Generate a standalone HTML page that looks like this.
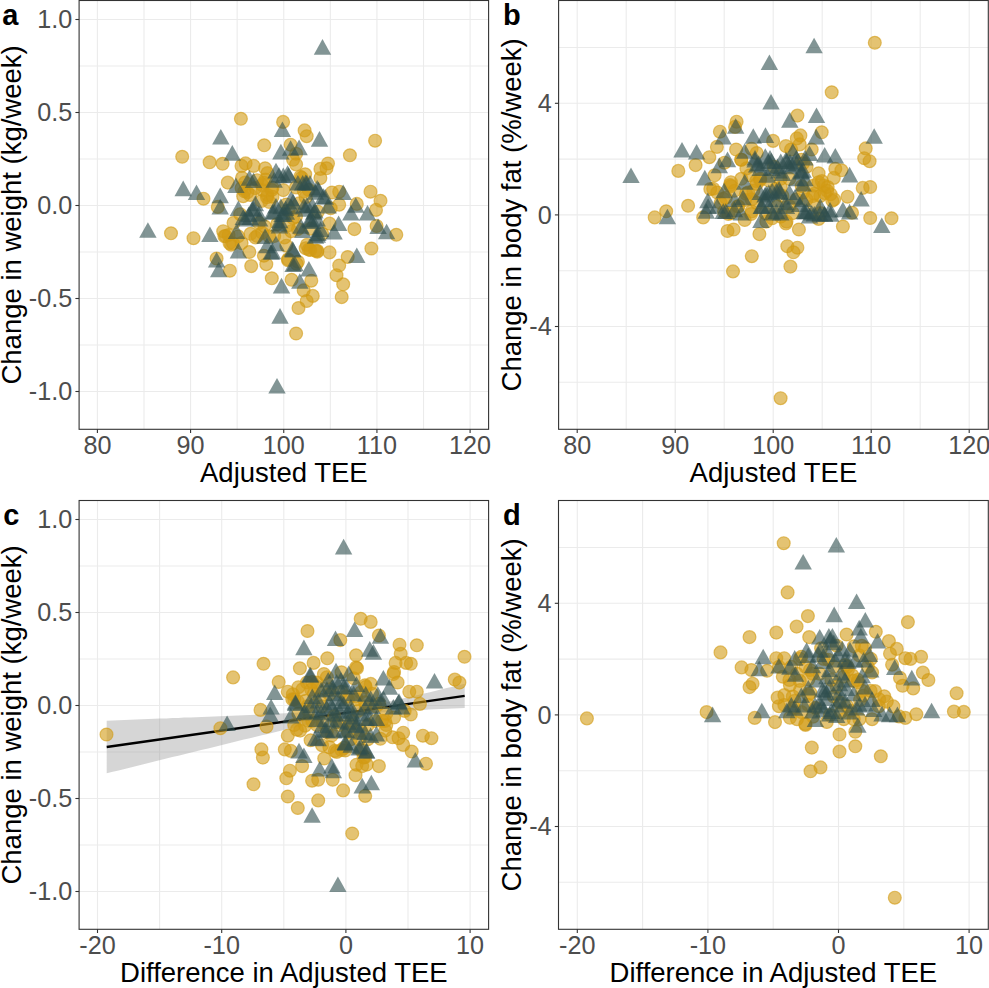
<!DOCTYPE html><html><head><meta charset="utf-8"><style>html,body{margin:0;padding:0;background:#fff;overflow:hidden}svg{display:block}</style></head><body><svg width="989" height="988" viewBox="0 0 989 988">
<rect width="989" height="988" fill="#fff"/>
<g stroke="#ebebeb" stroke-width="1.1" fill="none">
<line x1="143.99" y1="0.5" x2="143.99" y2="429.3"/>
<line x1="237.16" y1="0.5" x2="237.16" y2="429.3"/>
<line x1="330.34" y1="0.5" x2="330.34" y2="429.3"/>
<line x1="423.51" y1="0.5" x2="423.51" y2="429.3"/>
<line x1="97.40" y1="0.5" x2="97.40" y2="429.3"/>
<line x1="190.58" y1="0.5" x2="190.58" y2="429.3"/>
<line x1="283.75" y1="0.5" x2="283.75" y2="429.3"/>
<line x1="376.93" y1="0.5" x2="376.93" y2="429.3"/>
<line x1="470.10" y1="0.5" x2="470.10" y2="429.3"/>
<line x1="79.1" y1="66.00" x2="488.6" y2="66.00"/>
<line x1="79.1" y1="159.00" x2="488.6" y2="159.00"/>
<line x1="79.1" y1="252.00" x2="488.6" y2="252.00"/>
<line x1="79.1" y1="345.00" x2="488.6" y2="345.00"/>
<line x1="79.1" y1="19.50" x2="488.6" y2="19.50"/>
<line x1="79.1" y1="112.50" x2="488.6" y2="112.50"/>
<line x1="79.1" y1="205.50" x2="488.6" y2="205.50"/>
<line x1="79.1" y1="298.50" x2="488.6" y2="298.50"/>
<line x1="79.1" y1="391.50" x2="488.6" y2="391.50"/>
</g>
<g stroke="#333" stroke-width="1.1">
<line x1="97.40" y1="429.3" x2="97.40" y2="433.00"/>
<line x1="190.58" y1="429.3" x2="190.58" y2="433.00"/>
<line x1="283.75" y1="429.3" x2="283.75" y2="433.00"/>
<line x1="376.93" y1="429.3" x2="376.93" y2="433.00"/>
<line x1="470.10" y1="429.3" x2="470.10" y2="433.00"/>
<line x1="75.40" y1="19.50" x2="79.1" y2="19.50"/>
<line x1="75.40" y1="112.50" x2="79.1" y2="112.50"/>
<line x1="75.40" y1="205.50" x2="79.1" y2="205.50"/>
<line x1="75.40" y1="298.50" x2="79.1" y2="298.50"/>
<line x1="75.40" y1="391.50" x2="79.1" y2="391.50"/>
</g>
<g font-family='"Liberation Sans", sans-serif' font-size="25.2" fill="#4d4d4d">
<text x="97.40" y="453.50" text-anchor="middle">80</text>
<text x="190.58" y="453.50" text-anchor="middle">90</text>
<text x="283.75" y="453.50" text-anchor="middle">100</text>
<text x="376.93" y="453.50" text-anchor="middle">110</text>
<text x="470.10" y="453.50" text-anchor="middle">120</text>
<text x="72.20" y="28.30" text-anchor="end">1.0</text>
<text x="72.20" y="121.30" text-anchor="end">0.5</text>
<text x="72.20" y="214.30" text-anchor="end">0.0</text>
<text x="72.20" y="307.30" text-anchor="end">-0.5</text>
<text x="72.20" y="400.30" text-anchor="end">-1.0</text>
</g>
<text x="283.85" y="481.5" text-anchor="middle" font-family='"Liberation Sans", sans-serif' font-size="27.5" fill="#000">Adjusted TEE</text>
<text transform="translate(21.3,214.90) rotate(-90)" x="0" y="0" text-anchor="middle" font-family='"Liberation Sans", sans-serif' font-size="27.5" fill="#000">Change in weight (kg/week)</text>
<text x="2.3" y="24.5" font-family='"Liberation Sans", sans-serif' font-size="29" font-weight="bold" fill="#000">a</text>
<circle cx="245.6" cy="163.4" r="6.45" fill="#d29b14" fill-opacity="0.6" stroke="#d29b14" stroke-opacity="0.6" stroke-width="1.2"/>
<circle cx="267.5" cy="173.1" r="6.45" fill="#d29b14" fill-opacity="0.6" stroke="#d29b14" stroke-opacity="0.6" stroke-width="1.2"/>
<circle cx="242.0" cy="177.9" r="6.45" fill="#d29b14" fill-opacity="0.6" stroke="#d29b14" stroke-opacity="0.6" stroke-width="1.2"/>
<circle cx="300.3" cy="176.7" r="6.45" fill="#d29b14" fill-opacity="0.6" stroke="#d29b14" stroke-opacity="0.6" stroke-width="1.2"/>
<circle cx="305.2" cy="174.3" r="6.45" fill="#d29b14" fill-opacity="0.6" stroke="#d29b14" stroke-opacity="0.6" stroke-width="1.2"/>
<circle cx="263.9" cy="182.8" r="6.45" fill="#d29b14" fill-opacity="0.6" stroke="#d29b14" stroke-opacity="0.6" stroke-width="1.2"/>
<circle cx="262.7" cy="190.1" r="6.45" fill="#d29b14" fill-opacity="0.6" stroke="#d29b14" stroke-opacity="0.6" stroke-width="1.2"/>
<circle cx="244.4" cy="191.3" r="6.45" fill="#d29b14" fill-opacity="0.6" stroke="#d29b14" stroke-opacity="0.6" stroke-width="1.2"/>
<circle cx="243.2" cy="196.2" r="6.45" fill="#d29b14" fill-opacity="0.6" stroke="#d29b14" stroke-opacity="0.6" stroke-width="1.2"/>
<circle cx="261.4" cy="201.0" r="6.45" fill="#d29b14" fill-opacity="0.6" stroke="#d29b14" stroke-opacity="0.6" stroke-width="1.2"/>
<circle cx="272.4" cy="187.7" r="6.45" fill="#d29b14" fill-opacity="0.6" stroke="#d29b14" stroke-opacity="0.6" stroke-width="1.2"/>
<circle cx="283.3" cy="190.1" r="6.45" fill="#d29b14" fill-opacity="0.6" stroke="#d29b14" stroke-opacity="0.6" stroke-width="1.2"/>
<circle cx="303.9" cy="191.3" r="6.45" fill="#d29b14" fill-opacity="0.6" stroke="#d29b14" stroke-opacity="0.6" stroke-width="1.2"/>
<circle cx="331.9" cy="192.5" r="6.45" fill="#d29b14" fill-opacity="0.6" stroke="#d29b14" stroke-opacity="0.6" stroke-width="1.2"/>
<circle cx="339.2" cy="204.7" r="6.45" fill="#d29b14" fill-opacity="0.6" stroke="#d29b14" stroke-opacity="0.6" stroke-width="1.2"/>
<circle cx="330.7" cy="208.3" r="6.45" fill="#d29b14" fill-opacity="0.6" stroke="#d29b14" stroke-opacity="0.6" stroke-width="1.2"/>
<circle cx="299.1" cy="203.4" r="6.45" fill="#d29b14" fill-opacity="0.6" stroke="#d29b14" stroke-opacity="0.6" stroke-width="1.2"/>
<circle cx="233.5" cy="222.9" r="6.45" fill="#d29b14" fill-opacity="0.6" stroke="#d29b14" stroke-opacity="0.6" stroke-width="1.2"/>
<circle cx="228.6" cy="235.0" r="6.45" fill="#d29b14" fill-opacity="0.6" stroke="#d29b14" stroke-opacity="0.6" stroke-width="1.2"/>
<circle cx="231.1" cy="244.7" r="6.45" fill="#d29b14" fill-opacity="0.6" stroke="#d29b14" stroke-opacity="0.6" stroke-width="1.2"/>
<circle cx="250.5" cy="233.8" r="6.45" fill="#d29b14" fill-opacity="0.6" stroke="#d29b14" stroke-opacity="0.6" stroke-width="1.2"/>
<circle cx="255.4" cy="237.4" r="6.45" fill="#d29b14" fill-opacity="0.6" stroke="#d29b14" stroke-opacity="0.6" stroke-width="1.2"/>
<circle cx="259.0" cy="222.9" r="6.45" fill="#d29b14" fill-opacity="0.6" stroke="#d29b14" stroke-opacity="0.6" stroke-width="1.2"/>
<circle cx="277.2" cy="224.1" r="6.45" fill="#d29b14" fill-opacity="0.6" stroke="#d29b14" stroke-opacity="0.6" stroke-width="1.2"/>
<circle cx="288.2" cy="225.3" r="6.45" fill="#d29b14" fill-opacity="0.6" stroke="#d29b14" stroke-opacity="0.6" stroke-width="1.2"/>
<circle cx="297.9" cy="228.9" r="6.45" fill="#d29b14" fill-opacity="0.6" stroke="#d29b14" stroke-opacity="0.6" stroke-width="1.2"/>
<circle cx="284.5" cy="237.4" r="6.45" fill="#d29b14" fill-opacity="0.6" stroke="#d29b14" stroke-opacity="0.6" stroke-width="1.2"/>
<circle cx="322.2" cy="233.8" r="6.45" fill="#d29b14" fill-opacity="0.6" stroke="#d29b14" stroke-opacity="0.6" stroke-width="1.2"/>
<circle cx="249.3" cy="252.0" r="6.45" fill="#d29b14" fill-opacity="0.6" stroke="#d29b14" stroke-opacity="0.6" stroke-width="1.2"/>
<circle cx="263.9" cy="255.7" r="6.45" fill="#d29b14" fill-opacity="0.6" stroke="#d29b14" stroke-opacity="0.6" stroke-width="1.2"/>
<circle cx="266.3" cy="264.2" r="6.45" fill="#d29b14" fill-opacity="0.6" stroke="#d29b14" stroke-opacity="0.6" stroke-width="1.2"/>
<circle cx="308.8" cy="249.6" r="6.45" fill="#d29b14" fill-opacity="0.6" stroke="#d29b14" stroke-opacity="0.6" stroke-width="1.2"/>
<circle cx="317.3" cy="250.8" r="6.45" fill="#d29b14" fill-opacity="0.6" stroke="#d29b14" stroke-opacity="0.6" stroke-width="1.2"/>
<circle cx="288.2" cy="259.3" r="6.45" fill="#d29b14" fill-opacity="0.6" stroke="#d29b14" stroke-opacity="0.6" stroke-width="1.2"/>
<circle cx="297.9" cy="261.7" r="6.45" fill="#d29b14" fill-opacity="0.6" stroke="#d29b14" stroke-opacity="0.6" stroke-width="1.2"/>
<circle cx="288.2" cy="210.7" r="6.45" fill="#d29b14" fill-opacity="0.6" stroke="#d29b14" stroke-opacity="0.6" stroke-width="1.2"/>
<circle cx="293.0" cy="218.0" r="6.45" fill="#d29b14" fill-opacity="0.6" stroke="#d29b14" stroke-opacity="0.6" stroke-width="1.2"/>
<circle cx="265.6" cy="179.5" r="6.45" fill="#d29b14" fill-opacity="0.6" stroke="#d29b14" stroke-opacity="0.6" stroke-width="1.2"/>
<circle cx="255.3" cy="188.1" r="6.45" fill="#d29b14" fill-opacity="0.6" stroke="#d29b14" stroke-opacity="0.6" stroke-width="1.2"/>
<circle cx="250.2" cy="195.0" r="6.45" fill="#d29b14" fill-opacity="0.6" stroke="#d29b14" stroke-opacity="0.6" stroke-width="1.2"/>
<circle cx="267.4" cy="195.0" r="6.45" fill="#d29b14" fill-opacity="0.6" stroke="#d29b14" stroke-opacity="0.6" stroke-width="1.2"/>
<circle cx="241.6" cy="188.1" r="6.45" fill="#d29b14" fill-opacity="0.6" stroke="#d29b14" stroke-opacity="0.6" stroke-width="1.2"/>
<circle cx="272.5" cy="196.7" r="6.45" fill="#d29b14" fill-opacity="0.6" stroke="#d29b14" stroke-opacity="0.6" stroke-width="1.2"/>
<circle cx="301.7" cy="177.8" r="6.45" fill="#d29b14" fill-opacity="0.6" stroke="#d29b14" stroke-opacity="0.6" stroke-width="1.2"/>
<circle cx="308.6" cy="189.8" r="6.45" fill="#d29b14" fill-opacity="0.6" stroke="#d29b14" stroke-opacity="0.6" stroke-width="1.2"/>
<circle cx="224.4" cy="236.3" r="6.45" fill="#d29b14" fill-opacity="0.6" stroke="#d29b14" stroke-opacity="0.6" stroke-width="1.2"/>
<circle cx="238.1" cy="236.3" r="6.45" fill="#d29b14" fill-opacity="0.6" stroke="#d29b14" stroke-opacity="0.6" stroke-width="1.2"/>
<circle cx="229.5" cy="243.1" r="6.45" fill="#d29b14" fill-opacity="0.6" stroke="#d29b14" stroke-opacity="0.6" stroke-width="1.2"/>
<circle cx="241.6" cy="243.1" r="6.45" fill="#d29b14" fill-opacity="0.6" stroke="#d29b14" stroke-opacity="0.6" stroke-width="1.2"/>
<circle cx="269.1" cy="236.3" r="6.45" fill="#d29b14" fill-opacity="0.6" stroke="#d29b14" stroke-opacity="0.6" stroke-width="1.2"/>
<circle cx="262.2" cy="232.8" r="6.45" fill="#d29b14" fill-opacity="0.6" stroke="#d29b14" stroke-opacity="0.6" stroke-width="1.2"/>
<circle cx="288.0" cy="260.3" r="6.45" fill="#d29b14" fill-opacity="0.6" stroke="#d29b14" stroke-opacity="0.6" stroke-width="1.2"/>
<circle cx="296.6" cy="263.8" r="6.45" fill="#d29b14" fill-opacity="0.6" stroke="#d29b14" stroke-opacity="0.6" stroke-width="1.2"/>
<circle cx="306.9" cy="244.9" r="6.45" fill="#d29b14" fill-opacity="0.6" stroke="#d29b14" stroke-opacity="0.6" stroke-width="1.2"/>
<circle cx="310.3" cy="250.0" r="6.45" fill="#d29b14" fill-opacity="0.6" stroke="#d29b14" stroke-opacity="0.6" stroke-width="1.2"/>
<circle cx="317.2" cy="251.7" r="6.45" fill="#d29b14" fill-opacity="0.6" stroke="#d29b14" stroke-opacity="0.6" stroke-width="1.2"/>
<circle cx="247.4" cy="192.3" r="6.45" fill="#d29b14" fill-opacity="0.6" stroke="#d29b14" stroke-opacity="0.6" stroke-width="1.2"/>
<circle cx="262.0" cy="185.0" r="6.45" fill="#d29b14" fill-opacity="0.6" stroke="#d29b14" stroke-opacity="0.6" stroke-width="1.2"/>
<circle cx="266.9" cy="197.2" r="6.45" fill="#d29b14" fill-opacity="0.6" stroke="#d29b14" stroke-opacity="0.6" stroke-width="1.2"/>
<circle cx="257.2" cy="180.2" r="6.45" fill="#d29b14" fill-opacity="0.6" stroke="#d29b14" stroke-opacity="0.6" stroke-width="1.2"/>
<circle cx="245.0" cy="182.6" r="6.45" fill="#d29b14" fill-opacity="0.6" stroke="#d29b14" stroke-opacity="0.6" stroke-width="1.2"/>
<circle cx="271.7" cy="189.9" r="6.45" fill="#d29b14" fill-opacity="0.6" stroke="#d29b14" stroke-opacity="0.6" stroke-width="1.2"/>
<circle cx="225.6" cy="236.0" r="6.45" fill="#d29b14" fill-opacity="0.6" stroke="#d29b14" stroke-opacity="0.6" stroke-width="1.2"/>
<circle cx="232.9" cy="243.3" r="6.45" fill="#d29b14" fill-opacity="0.6" stroke="#d29b14" stroke-opacity="0.6" stroke-width="1.2"/>
<circle cx="223.2" cy="231.2" r="6.45" fill="#d29b14" fill-opacity="0.6" stroke="#d29b14" stroke-opacity="0.6" stroke-width="1.2"/>
<circle cx="257.2" cy="236.0" r="6.45" fill="#d29b14" fill-opacity="0.6" stroke="#d29b14" stroke-opacity="0.6" stroke-width="1.2"/>
<circle cx="274.2" cy="236.0" r="6.45" fill="#d29b14" fill-opacity="0.6" stroke="#d29b14" stroke-opacity="0.6" stroke-width="1.2"/>
<circle cx="286.3" cy="245.7" r="6.45" fill="#d29b14" fill-opacity="0.6" stroke="#d29b14" stroke-opacity="0.6" stroke-width="1.2"/>
<circle cx="305.7" cy="248.2" r="6.45" fill="#d29b14" fill-opacity="0.6" stroke="#d29b14" stroke-opacity="0.6" stroke-width="1.2"/>
<circle cx="315.5" cy="250.6" r="6.45" fill="#d29b14" fill-opacity="0.6" stroke="#d29b14" stroke-opacity="0.6" stroke-width="1.2"/>
<circle cx="269.3" cy="202.0" r="6.45" fill="#d29b14" fill-opacity="0.6" stroke="#d29b14" stroke-opacity="0.6" stroke-width="1.2"/>
<circle cx="286.3" cy="204.5" r="6.45" fill="#d29b14" fill-opacity="0.6" stroke="#d29b14" stroke-opacity="0.6" stroke-width="1.2"/>
<circle cx="296.0" cy="216.6" r="6.45" fill="#d29b14" fill-opacity="0.6" stroke="#d29b14" stroke-opacity="0.6" stroke-width="1.2"/>
<circle cx="264.5" cy="226.3" r="6.45" fill="#d29b14" fill-opacity="0.6" stroke="#d29b14" stroke-opacity="0.6" stroke-width="1.2"/>
<circle cx="291.2" cy="231.2" r="6.45" fill="#d29b14" fill-opacity="0.6" stroke="#d29b14" stroke-opacity="0.6" stroke-width="1.2"/>
<circle cx="305.7" cy="197.2" r="6.45" fill="#d29b14" fill-opacity="0.6" stroke="#d29b14" stroke-opacity="0.6" stroke-width="1.2"/>
<circle cx="317.9" cy="211.7" r="6.45" fill="#d29b14" fill-opacity="0.6" stroke="#d29b14" stroke-opacity="0.6" stroke-width="1.2"/>
<circle cx="240.2" cy="214.2" r="6.45" fill="#d29b14" fill-opacity="0.6" stroke="#d29b14" stroke-opacity="0.6" stroke-width="1.2"/>
<circle cx="296.0" cy="187.4" r="6.45" fill="#d29b14" fill-opacity="0.6" stroke="#d29b14" stroke-opacity="0.6" stroke-width="1.2"/>
<circle cx="310.6" cy="228.7" r="6.45" fill="#d29b14" fill-opacity="0.6" stroke="#d29b14" stroke-opacity="0.6" stroke-width="1.2"/>
<circle cx="240.9" cy="118.8" r="6.45" fill="#d29b14" fill-opacity="0.6" stroke="#d29b14" stroke-opacity="0.6" stroke-width="1.2"/>
<circle cx="283.1" cy="121.9" r="6.45" fill="#d29b14" fill-opacity="0.6" stroke="#d29b14" stroke-opacity="0.6" stroke-width="1.2"/>
<circle cx="304.6" cy="130.4" r="6.45" fill="#d29b14" fill-opacity="0.6" stroke="#d29b14" stroke-opacity="0.6" stroke-width="1.2"/>
<circle cx="306.7" cy="136.2" r="6.45" fill="#d29b14" fill-opacity="0.6" stroke="#d29b14" stroke-opacity="0.6" stroke-width="1.2"/>
<circle cx="264.2" cy="145.3" r="6.45" fill="#d29b14" fill-opacity="0.6" stroke="#d29b14" stroke-opacity="0.6" stroke-width="1.2"/>
<circle cx="375.1" cy="140.7" r="6.45" fill="#d29b14" fill-opacity="0.6" stroke="#d29b14" stroke-opacity="0.6" stroke-width="1.2"/>
<circle cx="349.9" cy="155.3" r="6.45" fill="#d29b14" fill-opacity="0.6" stroke="#d29b14" stroke-opacity="0.6" stroke-width="1.2"/>
<circle cx="182.2" cy="156.8" r="6.45" fill="#d29b14" fill-opacity="0.6" stroke="#d29b14" stroke-opacity="0.6" stroke-width="1.2"/>
<circle cx="209.6" cy="162.3" r="6.45" fill="#d29b14" fill-opacity="0.6" stroke="#d29b14" stroke-opacity="0.6" stroke-width="1.2"/>
<circle cx="222.6" cy="163.8" r="6.45" fill="#d29b14" fill-opacity="0.6" stroke="#d29b14" stroke-opacity="0.6" stroke-width="1.2"/>
<circle cx="241.5" cy="165.9" r="6.45" fill="#d29b14" fill-opacity="0.6" stroke="#d29b14" stroke-opacity="0.6" stroke-width="1.2"/>
<circle cx="253.6" cy="165.9" r="6.45" fill="#d29b14" fill-opacity="0.6" stroke="#d29b14" stroke-opacity="0.6" stroke-width="1.2"/>
<circle cx="290.6" cy="144.7" r="6.45" fill="#d29b14" fill-opacity="0.6" stroke="#d29b14" stroke-opacity="0.6" stroke-width="1.2"/>
<circle cx="296.1" cy="153.8" r="6.45" fill="#d29b14" fill-opacity="0.6" stroke="#d29b14" stroke-opacity="0.6" stroke-width="1.2"/>
<circle cx="293.1" cy="159.8" r="6.45" fill="#d29b14" fill-opacity="0.6" stroke="#d29b14" stroke-opacity="0.6" stroke-width="1.2"/>
<circle cx="296.1" cy="164.4" r="6.45" fill="#d29b14" fill-opacity="0.6" stroke="#d29b14" stroke-opacity="0.6" stroke-width="1.2"/>
<circle cx="265.1" cy="168.3" r="6.45" fill="#d29b14" fill-opacity="0.6" stroke="#d29b14" stroke-opacity="0.6" stroke-width="1.2"/>
<circle cx="328.0" cy="163.5" r="6.45" fill="#d29b14" fill-opacity="0.6" stroke="#d29b14" stroke-opacity="0.6" stroke-width="1.2"/>
<circle cx="326.5" cy="168.3" r="6.45" fill="#d29b14" fill-opacity="0.6" stroke="#d29b14" stroke-opacity="0.6" stroke-width="1.2"/>
<circle cx="320.4" cy="168.9" r="6.45" fill="#d29b14" fill-opacity="0.6" stroke="#d29b14" stroke-opacity="0.6" stroke-width="1.2"/>
<circle cx="320.4" cy="178.1" r="6.45" fill="#d29b14" fill-opacity="0.6" stroke="#d29b14" stroke-opacity="0.6" stroke-width="1.2"/>
<circle cx="203.5" cy="198.7" r="6.45" fill="#d29b14" fill-opacity="0.6" stroke="#d29b14" stroke-opacity="0.6" stroke-width="1.2"/>
<circle cx="227.8" cy="182.6" r="6.45" fill="#d29b14" fill-opacity="0.6" stroke="#d29b14" stroke-opacity="0.6" stroke-width="1.2"/>
<circle cx="370.5" cy="191.7" r="6.45" fill="#d29b14" fill-opacity="0.6" stroke="#d29b14" stroke-opacity="0.6" stroke-width="1.2"/>
<circle cx="380.5" cy="200.8" r="6.45" fill="#d29b14" fill-opacity="0.6" stroke="#d29b14" stroke-opacity="0.6" stroke-width="1.2"/>
<circle cx="376.0" cy="209.9" r="6.45" fill="#d29b14" fill-opacity="0.6" stroke="#d29b14" stroke-opacity="0.6" stroke-width="1.2"/>
<circle cx="217.8" cy="206.9" r="6.45" fill="#d29b14" fill-opacity="0.6" stroke="#d29b14" stroke-opacity="0.6" stroke-width="1.2"/>
<circle cx="171.0" cy="233.3" r="6.45" fill="#d29b14" fill-opacity="0.6" stroke="#d29b14" stroke-opacity="0.6" stroke-width="1.2"/>
<circle cx="193.5" cy="238.2" r="6.45" fill="#d29b14" fill-opacity="0.6" stroke="#d29b14" stroke-opacity="0.6" stroke-width="1.2"/>
<circle cx="396.3" cy="234.8" r="6.45" fill="#d29b14" fill-opacity="0.6" stroke="#d29b14" stroke-opacity="0.6" stroke-width="1.2"/>
<circle cx="354.4" cy="229.1" r="6.45" fill="#d29b14" fill-opacity="0.6" stroke="#d29b14" stroke-opacity="0.6" stroke-width="1.2"/>
<circle cx="371.4" cy="248.5" r="6.45" fill="#d29b14" fill-opacity="0.6" stroke="#d29b14" stroke-opacity="0.6" stroke-width="1.2"/>
<circle cx="347.7" cy="257.0" r="6.45" fill="#d29b14" fill-opacity="0.6" stroke="#d29b14" stroke-opacity="0.6" stroke-width="1.2"/>
<circle cx="339.2" cy="265.5" r="6.45" fill="#d29b14" fill-opacity="0.6" stroke="#d29b14" stroke-opacity="0.6" stroke-width="1.2"/>
<circle cx="336.5" cy="275.2" r="6.45" fill="#d29b14" fill-opacity="0.6" stroke="#d29b14" stroke-opacity="0.6" stroke-width="1.2"/>
<circle cx="343.2" cy="284.3" r="6.45" fill="#d29b14" fill-opacity="0.6" stroke="#d29b14" stroke-opacity="0.6" stroke-width="1.2"/>
<circle cx="341.7" cy="297.1" r="6.45" fill="#d29b14" fill-opacity="0.6" stroke="#d29b14" stroke-opacity="0.6" stroke-width="1.2"/>
<circle cx="329.5" cy="252.4" r="6.45" fill="#d29b14" fill-opacity="0.6" stroke="#d29b14" stroke-opacity="0.6" stroke-width="1.2"/>
<circle cx="251.2" cy="266.1" r="6.45" fill="#d29b14" fill-opacity="0.6" stroke="#d29b14" stroke-opacity="0.6" stroke-width="1.2"/>
<circle cx="229.9" cy="270.7" r="6.45" fill="#d29b14" fill-opacity="0.6" stroke="#d29b14" stroke-opacity="0.6" stroke-width="1.2"/>
<circle cx="216.6" cy="258.5" r="6.45" fill="#d29b14" fill-opacity="0.6" stroke="#d29b14" stroke-opacity="0.6" stroke-width="1.2"/>
<circle cx="271.8" cy="278.3" r="6.45" fill="#d29b14" fill-opacity="0.6" stroke="#d29b14" stroke-opacity="0.6" stroke-width="1.2"/>
<circle cx="291.6" cy="279.8" r="6.45" fill="#d29b14" fill-opacity="0.6" stroke="#d29b14" stroke-opacity="0.6" stroke-width="1.2"/>
<circle cx="311.3" cy="280.7" r="6.45" fill="#d29b14" fill-opacity="0.6" stroke="#d29b14" stroke-opacity="0.6" stroke-width="1.2"/>
<circle cx="303.7" cy="290.4" r="6.45" fill="#d29b14" fill-opacity="0.6" stroke="#d29b14" stroke-opacity="0.6" stroke-width="1.2"/>
<circle cx="312.8" cy="295.9" r="6.45" fill="#d29b14" fill-opacity="0.6" stroke="#d29b14" stroke-opacity="0.6" stroke-width="1.2"/>
<circle cx="306.7" cy="301.0" r="6.45" fill="#d29b14" fill-opacity="0.6" stroke="#d29b14" stroke-opacity="0.6" stroke-width="1.2"/>
<circle cx="298.5" cy="308.0" r="6.45" fill="#d29b14" fill-opacity="0.6" stroke="#d29b14" stroke-opacity="0.6" stroke-width="1.2"/>
<circle cx="296.1" cy="333.5" r="6.45" fill="#d29b14" fill-opacity="0.6" stroke="#d29b14" stroke-opacity="0.6" stroke-width="1.2"/>
<circle cx="329.5" cy="223.6" r="6.45" fill="#d29b14" fill-opacity="0.6" stroke="#d29b14" stroke-opacity="0.6" stroke-width="1.2"/>
<circle cx="356.8" cy="203.9" r="6.45" fill="#d29b14" fill-opacity="0.6" stroke="#d29b14" stroke-opacity="0.6" stroke-width="1.2"/>
<circle cx="339.2" cy="191.7" r="6.45" fill="#d29b14" fill-opacity="0.6" stroke="#d29b14" stroke-opacity="0.6" stroke-width="1.2"/>
<circle cx="376.6" cy="226.0" r="6.45" fill="#d29b14" fill-opacity="0.6" stroke="#d29b14" stroke-opacity="0.6" stroke-width="1.2"/>
<path d="M276.00 162.80L284.70 178.40L267.30 178.40Z" fill="#2f4f4f" fill-opacity="0.6"/>
<path d="M287.60 165.20L296.30 180.80L278.90 180.80Z" fill="#2f4f4f" fill-opacity="0.6"/>
<path d="M283.30 167.60L292.00 183.20L274.60 183.20Z" fill="#2f4f4f" fill-opacity="0.6"/>
<path d="M249.30 170.10L258.00 185.70L240.60 185.70Z" fill="#2f4f4f" fill-opacity="0.6"/>
<path d="M253.50 172.50L262.20 188.10L244.80 188.10Z" fill="#2f4f4f" fill-opacity="0.6"/>
<path d="M297.90 174.90L306.60 190.50L289.20 190.50Z" fill="#2f4f4f" fill-opacity="0.6"/>
<path d="M302.70 174.90L311.40 190.50L294.00 190.50Z" fill="#2f4f4f" fill-opacity="0.6"/>
<path d="M310.00 174.90L318.70 190.50L301.30 190.50Z" fill="#2f4f4f" fill-opacity="0.6"/>
<path d="M318.50 181.60L327.20 197.20L309.80 197.20Z" fill="#2f4f4f" fill-opacity="0.6"/>
<path d="M323.40 188.30L332.10 203.90L314.70 203.90Z" fill="#2f4f4f" fill-opacity="0.6"/>
<path d="M235.90 177.40L244.60 193.00L227.20 193.00Z" fill="#2f4f4f" fill-opacity="0.6"/>
<path d="M291.20 190.70L299.90 206.30L282.50 206.30Z" fill="#2f4f4f" fill-opacity="0.6"/>
<path d="M255.40 195.60L264.10 211.20L246.70 211.20Z" fill="#2f4f4f" fill-opacity="0.6"/>
<path d="M276.00 198.00L284.70 213.60L267.30 213.60Z" fill="#2f4f4f" fill-opacity="0.6"/>
<path d="M280.90 198.60L289.60 214.20L272.20 214.20Z" fill="#2f4f4f" fill-opacity="0.6"/>
<path d="M285.70 200.40L294.40 216.00L277.00 216.00Z" fill="#2f4f4f" fill-opacity="0.6"/>
<path d="M303.90 198.00L312.60 213.60L295.20 213.60Z" fill="#2f4f4f" fill-opacity="0.6"/>
<path d="M312.40 197.40L321.10 213.00L303.70 213.00Z" fill="#2f4f4f" fill-opacity="0.6"/>
<path d="M238.40 200.40L247.10 216.00L229.70 216.00Z" fill="#2f4f4f" fill-opacity="0.6"/>
<path d="M248.70 206.50L257.40 222.10L240.00 222.10Z" fill="#2f4f4f" fill-opacity="0.6"/>
<path d="M282.10 206.50L290.80 222.10L273.40 222.10Z" fill="#2f4f4f" fill-opacity="0.6"/>
<path d="M314.90 202.90L323.60 218.50L306.20 218.50Z" fill="#2f4f4f" fill-opacity="0.6"/>
<path d="M328.20 198.00L336.90 213.60L319.50 213.60Z" fill="#2f4f4f" fill-opacity="0.6"/>
<path d="M310.00 211.40L318.70 227.00L301.30 227.00Z" fill="#2f4f4f" fill-opacity="0.6"/>
<path d="M279.70 212.60L288.40 228.20L271.00 228.20Z" fill="#2f4f4f" fill-opacity="0.6"/>
<path d="M236.50 223.50L245.20 239.10L227.80 239.10Z" fill="#2f4f4f" fill-opacity="0.6"/>
<path d="M265.10 228.40L273.80 244.00L256.40 244.00Z" fill="#2f4f4f" fill-opacity="0.6"/>
<path d="M302.70 222.30L311.40 237.90L294.00 237.90Z" fill="#2f4f4f" fill-opacity="0.6"/>
<path d="M317.30 227.20L326.00 242.80L308.60 242.80Z" fill="#2f4f4f" fill-opacity="0.6"/>
<path d="M276.00 235.70L284.70 251.30L267.30 251.30Z" fill="#2f4f4f" fill-opacity="0.6"/>
<path d="M271.20 244.20L279.90 259.80L262.50 259.80Z" fill="#2f4f4f" fill-opacity="0.6"/>
<path d="M292.40 241.10L301.10 256.70L283.70 256.70Z" fill="#2f4f4f" fill-opacity="0.6"/>
<path d="M253.60 200.70L262.30 216.30L244.90 216.30Z" fill="#2f4f4f" fill-opacity="0.6"/>
<path d="M250.20 209.30L258.90 224.90L241.50 224.90Z" fill="#2f4f4f" fill-opacity="0.6"/>
<path d="M258.80 205.80L267.50 221.40L250.10 221.40Z" fill="#2f4f4f" fill-opacity="0.6"/>
<path d="M243.30 209.30L252.00 224.90L234.60 224.90Z" fill="#2f4f4f" fill-opacity="0.6"/>
<path d="M272.50 204.10L281.20 219.70L263.80 219.70Z" fill="#2f4f4f" fill-opacity="0.6"/>
<path d="M279.40 217.80L288.10 233.40L270.70 233.40Z" fill="#2f4f4f" fill-opacity="0.6"/>
<path d="M286.30 204.10L295.00 219.70L277.60 219.70Z" fill="#2f4f4f" fill-opacity="0.6"/>
<path d="M293.10 193.80L301.80 209.40L284.40 209.40Z" fill="#2f4f4f" fill-opacity="0.6"/>
<path d="M306.90 174.90L315.60 190.50L298.20 190.50Z" fill="#2f4f4f" fill-opacity="0.6"/>
<path d="M317.20 180.00L325.90 195.60L308.50 195.60Z" fill="#2f4f4f" fill-opacity="0.6"/>
<path d="M306.90 197.20L315.60 212.80L298.20 212.80Z" fill="#2f4f4f" fill-opacity="0.6"/>
<path d="M313.80 204.10L322.50 219.70L305.10 219.70Z" fill="#2f4f4f" fill-opacity="0.6"/>
<path d="M310.30 212.70L319.00 228.30L301.60 228.30Z" fill="#2f4f4f" fill-opacity="0.6"/>
<path d="M317.20 211.00L325.90 226.60L308.50 226.60Z" fill="#2f4f4f" fill-opacity="0.6"/>
<path d="M293.10 241.90L301.80 257.50L284.40 257.50Z" fill="#2f4f4f" fill-opacity="0.6"/>
<path d="M272.50 243.60L281.20 259.20L263.80 259.20Z" fill="#2f4f4f" fill-opacity="0.6"/>
<path d="M294.90 255.70L303.60 271.30L286.20 271.30Z" fill="#2f4f4f" fill-opacity="0.6"/>
<path d="M315.50 228.20L324.20 243.80L306.80 243.80Z" fill="#2f4f4f" fill-opacity="0.6"/>
<path d="M320.60 221.30L329.30 236.90L311.90 236.90Z" fill="#2f4f4f" fill-opacity="0.6"/>
<path d="M279.00 167.20L287.70 182.80L270.30 182.80Z" fill="#2f4f4f" fill-opacity="0.6"/>
<path d="M288.70 167.20L297.40 182.80L280.00 182.80Z" fill="#2f4f4f" fill-opacity="0.6"/>
<path d="M274.20 172.10L282.90 187.70L265.50 187.70Z" fill="#2f4f4f" fill-opacity="0.6"/>
<path d="M305.70 174.50L314.40 190.10L297.00 190.10Z" fill="#2f4f4f" fill-opacity="0.6"/>
<path d="M315.50 184.20L324.20 199.80L306.80 199.80Z" fill="#2f4f4f" fill-opacity="0.6"/>
<path d="M325.20 189.10L333.90 204.70L316.50 204.70Z" fill="#2f4f4f" fill-opacity="0.6"/>
<path d="M252.30 201.20L261.00 216.80L243.60 216.80Z" fill="#2f4f4f" fill-opacity="0.6"/>
<path d="M245.00 210.90L253.70 226.50L236.30 226.50Z" fill="#2f4f4f" fill-opacity="0.6"/>
<path d="M259.60 210.90L268.30 226.50L250.90 226.50Z" fill="#2f4f4f" fill-opacity="0.6"/>
<path d="M274.20 203.60L282.90 219.20L265.50 219.20Z" fill="#2f4f4f" fill-opacity="0.6"/>
<path d="M283.90 206.10L292.60 221.70L275.20 221.70Z" fill="#2f4f4f" fill-opacity="0.6"/>
<path d="M279.00 215.80L287.70 231.40L270.30 231.40Z" fill="#2f4f4f" fill-opacity="0.6"/>
<path d="M291.20 198.80L299.90 214.40L282.50 214.40Z" fill="#2f4f4f" fill-opacity="0.6"/>
<path d="M305.70 201.20L314.40 216.80L297.00 216.80Z" fill="#2f4f4f" fill-opacity="0.6"/>
<path d="M313.00 213.40L321.70 229.00L304.30 229.00Z" fill="#2f4f4f" fill-opacity="0.6"/>
<path d="M300.90 218.20L309.60 233.80L292.20 233.80Z" fill="#2f4f4f" fill-opacity="0.6"/>
<path d="M317.90 225.50L326.60 241.10L309.20 241.10Z" fill="#2f4f4f" fill-opacity="0.6"/>
<path d="M266.90 237.60L275.60 253.20L258.20 253.20Z" fill="#2f4f4f" fill-opacity="0.6"/>
<path d="M355.80 197.20L364.50 212.80L347.10 212.80Z" fill="#2f4f4f" fill-opacity="0.6"/>
<path d="M322.50 39.10L331.20 54.70L313.80 54.70Z" fill="#2f4f4f" fill-opacity="0.6"/>
<path d="M282.40 121.40L291.10 137.00L273.70 137.00Z" fill="#2f4f4f" fill-opacity="0.6"/>
<path d="M220.80 129.00L229.50 144.60L212.10 144.60Z" fill="#2f4f4f" fill-opacity="0.6"/>
<path d="M319.50 131.10L328.20 146.70L310.80 146.70Z" fill="#2f4f4f" fill-opacity="0.6"/>
<path d="M232.30 145.10L241.00 160.70L223.60 160.70Z" fill="#2f4f4f" fill-opacity="0.6"/>
<path d="M280.90 143.80L289.60 159.40L272.20 159.40Z" fill="#2f4f4f" fill-opacity="0.6"/>
<path d="M290.60 140.20L299.30 155.80L281.90 155.80Z" fill="#2f4f4f" fill-opacity="0.6"/>
<path d="M299.10 139.60L307.80 155.20L290.40 155.20Z" fill="#2f4f4f" fill-opacity="0.6"/>
<path d="M183.20 180.60L191.90 196.20L174.50 196.20Z" fill="#2f4f4f" fill-opacity="0.6"/>
<path d="M196.50 184.50L205.20 200.10L187.80 200.10Z" fill="#2f4f4f" fill-opacity="0.6"/>
<path d="M220.20 187.60L228.90 203.20L211.50 203.20Z" fill="#2f4f4f" fill-opacity="0.6"/>
<path d="M220.20 198.80L228.90 214.40L211.50 214.40Z" fill="#2f4f4f" fill-opacity="0.6"/>
<path d="M147.90 222.20L156.60 237.80L139.20 237.80Z" fill="#2f4f4f" fill-opacity="0.6"/>
<path d="M209.90 226.40L218.60 242.00L201.20 242.00Z" fill="#2f4f4f" fill-opacity="0.6"/>
<path d="M343.20 184.50L351.90 200.10L334.50 200.10Z" fill="#2f4f4f" fill-opacity="0.6"/>
<path d="M350.80 204.90L359.50 220.50L342.10 220.50Z" fill="#2f4f4f" fill-opacity="0.6"/>
<path d="M367.50 204.90L376.20 220.50L358.80 220.50Z" fill="#2f4f4f" fill-opacity="0.6"/>
<path d="M338.60 215.50L347.30 231.10L329.90 231.10Z" fill="#2f4f4f" fill-opacity="0.6"/>
<path d="M334.10 224.00L342.80 239.60L325.40 239.60Z" fill="#2f4f4f" fill-opacity="0.6"/>
<path d="M378.10 218.50L386.80 234.10L369.40 234.10Z" fill="#2f4f4f" fill-opacity="0.6"/>
<path d="M386.60 223.70L395.30 239.30L377.90 239.30Z" fill="#2f4f4f" fill-opacity="0.6"/>
<path d="M356.80 247.40L365.50 263.00L348.10 263.00Z" fill="#2f4f4f" fill-opacity="0.6"/>
<path d="M216.60 251.90L225.30 267.50L207.90 267.50Z" fill="#2f4f4f" fill-opacity="0.6"/>
<path d="M218.70 261.70L227.40 277.30L210.00 277.30Z" fill="#2f4f4f" fill-opacity="0.6"/>
<path d="M238.40 242.80L247.10 258.40L229.70 258.40Z" fill="#2f4f4f" fill-opacity="0.6"/>
<path d="M281.50 277.80L290.20 293.40L272.80 293.40Z" fill="#2f4f4f" fill-opacity="0.6"/>
<path d="M299.80 273.20L308.50 288.80L291.10 288.80Z" fill="#2f4f4f" fill-opacity="0.6"/>
<path d="M308.90 261.00L317.60 276.60L300.20 276.60Z" fill="#2f4f4f" fill-opacity="0.6"/>
<path d="M293.10 256.50L301.80 272.10L284.40 272.10Z" fill="#2f4f4f" fill-opacity="0.6"/>
<path d="M280.00 308.10L288.70 323.70L271.30 323.70Z" fill="#2f4f4f" fill-opacity="0.6"/>
<path d="M277.00 378.00L285.70 393.60L268.30 393.60Z" fill="#2f4f4f" fill-opacity="0.6"/>
<rect x="79.1" y="0.5" width="409.50" height="428.80" fill="none" stroke="#333" stroke-width="1.1"/>
<g stroke="#ebebeb" stroke-width="1.1" fill="none">
<line x1="626.20" y1="0.5" x2="626.20" y2="429.3"/>
<line x1="724.20" y1="0.5" x2="724.20" y2="429.3"/>
<line x1="822.20" y1="0.5" x2="822.20" y2="429.3"/>
<line x1="920.20" y1="0.5" x2="920.20" y2="429.3"/>
<line x1="577.20" y1="0.5" x2="577.20" y2="429.3"/>
<line x1="675.20" y1="0.5" x2="675.20" y2="429.3"/>
<line x1="773.20" y1="0.5" x2="773.20" y2="429.3"/>
<line x1="871.20" y1="0.5" x2="871.20" y2="429.3"/>
<line x1="969.20" y1="0.5" x2="969.20" y2="429.3"/>
<line x1="558.6" y1="47.50" x2="988.3" y2="47.50"/>
<line x1="558.6" y1="159.10" x2="988.3" y2="159.10"/>
<line x1="558.6" y1="270.70" x2="988.3" y2="270.70"/>
<line x1="558.6" y1="382.30" x2="988.3" y2="382.30"/>
<line x1="558.6" y1="103.30" x2="988.3" y2="103.30"/>
<line x1="558.6" y1="214.90" x2="988.3" y2="214.90"/>
<line x1="558.6" y1="326.50" x2="988.3" y2="326.50"/>
</g>
<g stroke="#333" stroke-width="1.1">
<line x1="577.20" y1="429.3" x2="577.20" y2="433.00"/>
<line x1="675.20" y1="429.3" x2="675.20" y2="433.00"/>
<line x1="773.20" y1="429.3" x2="773.20" y2="433.00"/>
<line x1="871.20" y1="429.3" x2="871.20" y2="433.00"/>
<line x1="969.20" y1="429.3" x2="969.20" y2="433.00"/>
<line x1="554.90" y1="103.30" x2="558.6" y2="103.30"/>
<line x1="554.90" y1="214.90" x2="558.6" y2="214.90"/>
<line x1="554.90" y1="326.50" x2="558.6" y2="326.50"/>
</g>
<g font-family='"Liberation Sans", sans-serif' font-size="25.2" fill="#4d4d4d">
<text x="577.20" y="453.50" text-anchor="middle">80</text>
<text x="675.20" y="453.50" text-anchor="middle">90</text>
<text x="773.20" y="453.50" text-anchor="middle">100</text>
<text x="871.20" y="453.50" text-anchor="middle">110</text>
<text x="969.20" y="453.50" text-anchor="middle">120</text>
<text x="551.70" y="112.10" text-anchor="end">4</text>
<text x="551.70" y="223.70" text-anchor="end">0</text>
<text x="551.70" y="335.30" text-anchor="end">-4</text>
</g>
<text x="773.45" y="481.5" text-anchor="middle" font-family='"Liberation Sans", sans-serif' font-size="27.5" fill="#000">Adjusted TEE</text>
<text transform="translate(521.0,214.90) rotate(-90)" x="0" y="0" text-anchor="middle" font-family='"Liberation Sans", sans-serif' font-size="27.5" fill="#000">Change in body fat (%/week)</text>
<text x="503.0" y="24.5" font-family='"Liberation Sans", sans-serif' font-size="29" font-weight="bold" fill="#000">b</text>
<circle cx="736.1" cy="149.5" r="6.45" fill="#d29b14" fill-opacity="0.6" stroke="#d29b14" stroke-opacity="0.6" stroke-width="1.2"/>
<circle cx="741.3" cy="159.8" r="6.45" fill="#d29b14" fill-opacity="0.6" stroke="#d29b14" stroke-opacity="0.6" stroke-width="1.2"/>
<circle cx="751.6" cy="148.7" r="6.45" fill="#d29b14" fill-opacity="0.6" stroke="#d29b14" stroke-opacity="0.6" stroke-width="1.2"/>
<circle cx="756.7" cy="153.0" r="6.45" fill="#d29b14" fill-opacity="0.6" stroke="#d29b14" stroke-opacity="0.6" stroke-width="1.2"/>
<circle cx="746.4" cy="168.4" r="6.45" fill="#d29b14" fill-opacity="0.6" stroke="#d29b14" stroke-opacity="0.6" stroke-width="1.2"/>
<circle cx="741.3" cy="178.8" r="6.45" fill="#d29b14" fill-opacity="0.6" stroke="#d29b14" stroke-opacity="0.6" stroke-width="1.2"/>
<circle cx="730.9" cy="182.2" r="6.45" fill="#d29b14" fill-opacity="0.6" stroke="#d29b14" stroke-opacity="0.6" stroke-width="1.2"/>
<circle cx="714.6" cy="175.3" r="6.45" fill="#d29b14" fill-opacity="0.6" stroke="#d29b14" stroke-opacity="0.6" stroke-width="1.2"/>
<circle cx="710.3" cy="189.1" r="6.45" fill="#d29b14" fill-opacity="0.6" stroke="#d29b14" stroke-opacity="0.6" stroke-width="1.2"/>
<circle cx="717.2" cy="192.5" r="6.45" fill="#d29b14" fill-opacity="0.6" stroke="#d29b14" stroke-opacity="0.6" stroke-width="1.2"/>
<circle cx="725.8" cy="197.7" r="6.45" fill="#d29b14" fill-opacity="0.6" stroke="#d29b14" stroke-opacity="0.6" stroke-width="1.2"/>
<circle cx="724.1" cy="211.4" r="6.45" fill="#d29b14" fill-opacity="0.6" stroke="#d29b14" stroke-opacity="0.6" stroke-width="1.2"/>
<circle cx="737.8" cy="206.3" r="6.45" fill="#d29b14" fill-opacity="0.6" stroke="#d29b14" stroke-opacity="0.6" stroke-width="1.2"/>
<circle cx="744.7" cy="220.0" r="6.45" fill="#d29b14" fill-opacity="0.6" stroke="#d29b14" stroke-opacity="0.6" stroke-width="1.2"/>
<circle cx="751.6" cy="211.4" r="6.45" fill="#d29b14" fill-opacity="0.6" stroke="#d29b14" stroke-opacity="0.6" stroke-width="1.2"/>
<circle cx="756.7" cy="202.8" r="6.45" fill="#d29b14" fill-opacity="0.6" stroke="#d29b14" stroke-opacity="0.6" stroke-width="1.2"/>
<circle cx="753.3" cy="190.8" r="6.45" fill="#d29b14" fill-opacity="0.6" stroke="#d29b14" stroke-opacity="0.6" stroke-width="1.2"/>
<circle cx="756.7" cy="183.9" r="6.45" fill="#d29b14" fill-opacity="0.6" stroke="#d29b14" stroke-opacity="0.6" stroke-width="1.2"/>
<circle cx="785.9" cy="146.1" r="6.45" fill="#d29b14" fill-opacity="0.6" stroke="#d29b14" stroke-opacity="0.6" stroke-width="1.2"/>
<circle cx="791.1" cy="149.5" r="6.45" fill="#d29b14" fill-opacity="0.6" stroke="#d29b14" stroke-opacity="0.6" stroke-width="1.2"/>
<circle cx="799.7" cy="144.4" r="6.45" fill="#d29b14" fill-opacity="0.6" stroke="#d29b14" stroke-opacity="0.6" stroke-width="1.2"/>
<circle cx="801.4" cy="159.8" r="6.45" fill="#d29b14" fill-opacity="0.6" stroke="#d29b14" stroke-opacity="0.6" stroke-width="1.2"/>
<circle cx="806.6" cy="166.7" r="6.45" fill="#d29b14" fill-opacity="0.6" stroke="#d29b14" stroke-opacity="0.6" stroke-width="1.2"/>
<circle cx="811.7" cy="149.5" r="6.45" fill="#d29b14" fill-opacity="0.6" stroke="#d29b14" stroke-opacity="0.6" stroke-width="1.2"/>
<circle cx="818.6" cy="182.2" r="6.45" fill="#d29b14" fill-opacity="0.6" stroke="#d29b14" stroke-opacity="0.6" stroke-width="1.2"/>
<circle cx="823.8" cy="185.6" r="6.45" fill="#d29b14" fill-opacity="0.6" stroke="#d29b14" stroke-opacity="0.6" stroke-width="1.2"/>
<circle cx="827.2" cy="190.8" r="6.45" fill="#d29b14" fill-opacity="0.6" stroke="#d29b14" stroke-opacity="0.6" stroke-width="1.2"/>
<circle cx="830.6" cy="194.2" r="6.45" fill="#d29b14" fill-opacity="0.6" stroke="#d29b14" stroke-opacity="0.6" stroke-width="1.2"/>
<circle cx="820.3" cy="213.1" r="6.45" fill="#d29b14" fill-opacity="0.6" stroke="#d29b14" stroke-opacity="0.6" stroke-width="1.2"/>
<circle cx="796.3" cy="199.4" r="6.45" fill="#d29b14" fill-opacity="0.6" stroke="#d29b14" stroke-opacity="0.6" stroke-width="1.2"/>
<circle cx="803.1" cy="192.5" r="6.45" fill="#d29b14" fill-opacity="0.6" stroke="#d29b14" stroke-opacity="0.6" stroke-width="1.2"/>
<circle cx="789.4" cy="206.3" r="6.45" fill="#d29b14" fill-opacity="0.6" stroke="#d29b14" stroke-opacity="0.6" stroke-width="1.2"/>
<circle cx="780.8" cy="216.6" r="6.45" fill="#d29b14" fill-opacity="0.6" stroke="#d29b14" stroke-opacity="0.6" stroke-width="1.2"/>
<circle cx="772.2" cy="218.3" r="6.45" fill="#d29b14" fill-opacity="0.6" stroke="#d29b14" stroke-opacity="0.6" stroke-width="1.2"/>
<circle cx="765.3" cy="213.1" r="6.45" fill="#d29b14" fill-opacity="0.6" stroke="#d29b14" stroke-opacity="0.6" stroke-width="1.2"/>
<circle cx="785.9" cy="223.4" r="6.45" fill="#d29b14" fill-opacity="0.6" stroke="#d29b14" stroke-opacity="0.6" stroke-width="1.2"/>
<circle cx="773.9" cy="166.7" r="6.45" fill="#d29b14" fill-opacity="0.6" stroke="#d29b14" stroke-opacity="0.6" stroke-width="1.2"/>
<circle cx="775.6" cy="189.1" r="6.45" fill="#d29b14" fill-opacity="0.6" stroke="#d29b14" stroke-opacity="0.6" stroke-width="1.2"/>
<circle cx="780.8" cy="187.4" r="6.45" fill="#d29b14" fill-opacity="0.6" stroke="#d29b14" stroke-opacity="0.6" stroke-width="1.2"/>
<circle cx="749.8" cy="175.3" r="6.45" fill="#d29b14" fill-opacity="0.6" stroke="#d29b14" stroke-opacity="0.6" stroke-width="1.2"/>
<circle cx="760.2" cy="178.8" r="6.45" fill="#d29b14" fill-opacity="0.6" stroke="#d29b14" stroke-opacity="0.6" stroke-width="1.2"/>
<circle cx="768.8" cy="180.5" r="6.45" fill="#d29b14" fill-opacity="0.6" stroke="#d29b14" stroke-opacity="0.6" stroke-width="1.2"/>
<circle cx="780.8" cy="178.8" r="6.45" fill="#d29b14" fill-opacity="0.6" stroke="#d29b14" stroke-opacity="0.6" stroke-width="1.2"/>
<circle cx="789.4" cy="178.8" r="6.45" fill="#d29b14" fill-opacity="0.6" stroke="#d29b14" stroke-opacity="0.6" stroke-width="1.2"/>
<circle cx="803.1" cy="163.3" r="6.45" fill="#d29b14" fill-opacity="0.6" stroke="#d29b14" stroke-opacity="0.6" stroke-width="1.2"/>
<circle cx="782.5" cy="195.9" r="6.45" fill="#d29b14" fill-opacity="0.6" stroke="#d29b14" stroke-opacity="0.6" stroke-width="1.2"/>
<circle cx="792.8" cy="213.1" r="6.45" fill="#d29b14" fill-opacity="0.6" stroke="#d29b14" stroke-opacity="0.6" stroke-width="1.2"/>
<circle cx="751.6" cy="199.4" r="6.45" fill="#d29b14" fill-opacity="0.6" stroke="#d29b14" stroke-opacity="0.6" stroke-width="1.2"/>
<circle cx="777.4" cy="206.3" r="6.45" fill="#d29b14" fill-opacity="0.6" stroke="#d29b14" stroke-opacity="0.6" stroke-width="1.2"/>
<circle cx="813.4" cy="185.6" r="6.45" fill="#d29b14" fill-opacity="0.6" stroke="#d29b14" stroke-opacity="0.6" stroke-width="1.2"/>
<circle cx="820.3" cy="195.9" r="6.45" fill="#d29b14" fill-opacity="0.6" stroke="#d29b14" stroke-opacity="0.6" stroke-width="1.2"/>
<circle cx="834.1" cy="199.4" r="6.45" fill="#d29b14" fill-opacity="0.6" stroke="#d29b14" stroke-opacity="0.6" stroke-width="1.2"/>
<circle cx="806.6" cy="199.4" r="6.45" fill="#d29b14" fill-opacity="0.6" stroke="#d29b14" stroke-opacity="0.6" stroke-width="1.2"/>
<circle cx="720.6" cy="202.8" r="6.45" fill="#d29b14" fill-opacity="0.6" stroke="#d29b14" stroke-opacity="0.6" stroke-width="1.2"/>
<circle cx="734.4" cy="190.8" r="6.45" fill="#d29b14" fill-opacity="0.6" stroke="#d29b14" stroke-opacity="0.6" stroke-width="1.2"/>
<circle cx="730.9" cy="213.1" r="6.45" fill="#d29b14" fill-opacity="0.6" stroke="#d29b14" stroke-opacity="0.6" stroke-width="1.2"/>
<circle cx="748.1" cy="192.5" r="6.45" fill="#d29b14" fill-opacity="0.6" stroke="#d29b14" stroke-opacity="0.6" stroke-width="1.2"/>
<circle cx="730.9" cy="186.2" r="6.45" fill="#d29b14" fill-opacity="0.6" stroke="#d29b14" stroke-opacity="0.6" stroke-width="1.2"/>
<circle cx="746.1" cy="193.8" r="6.45" fill="#d29b14" fill-opacity="0.6" stroke="#d29b14" stroke-opacity="0.6" stroke-width="1.2"/>
<circle cx="738.5" cy="206.4" r="6.45" fill="#d29b14" fill-opacity="0.6" stroke="#d29b14" stroke-opacity="0.6" stroke-width="1.2"/>
<circle cx="751.1" cy="214.0" r="6.45" fill="#d29b14" fill-opacity="0.6" stroke="#d29b14" stroke-opacity="0.6" stroke-width="1.2"/>
<circle cx="728.4" cy="214.0" r="6.45" fill="#d29b14" fill-opacity="0.6" stroke="#d29b14" stroke-opacity="0.6" stroke-width="1.2"/>
<circle cx="756.2" cy="181.1" r="6.45" fill="#d29b14" fill-opacity="0.6" stroke="#d29b14" stroke-opacity="0.6" stroke-width="1.2"/>
<circle cx="801.7" cy="186.2" r="6.45" fill="#d29b14" fill-opacity="0.6" stroke="#d29b14" stroke-opacity="0.6" stroke-width="1.2"/>
<circle cx="814.3" cy="193.8" r="6.45" fill="#d29b14" fill-opacity="0.6" stroke="#d29b14" stroke-opacity="0.6" stroke-width="1.2"/>
<circle cx="821.9" cy="181.1" r="6.45" fill="#d29b14" fill-opacity="0.6" stroke="#d29b14" stroke-opacity="0.6" stroke-width="1.2"/>
<circle cx="713.2" cy="188.7" r="6.45" fill="#d29b14" fill-opacity="0.6" stroke="#d29b14" stroke-opacity="0.6" stroke-width="1.2"/>
<circle cx="723.3" cy="198.8" r="6.45" fill="#d29b14" fill-opacity="0.6" stroke="#d29b14" stroke-opacity="0.6" stroke-width="1.2"/>
<circle cx="766.3" cy="221.6" r="6.45" fill="#d29b14" fill-opacity="0.6" stroke="#d29b14" stroke-opacity="0.6" stroke-width="1.2"/>
<circle cx="786.5" cy="221.6" r="6.45" fill="#d29b14" fill-opacity="0.6" stroke="#d29b14" stroke-opacity="0.6" stroke-width="1.2"/>
<circle cx="730.0" cy="185.0" r="6.45" fill="#d29b14" fill-opacity="0.6" stroke="#d29b14" stroke-opacity="0.6" stroke-width="1.2"/>
<circle cx="745.0" cy="200.0" r="6.45" fill="#d29b14" fill-opacity="0.6" stroke="#d29b14" stroke-opacity="0.6" stroke-width="1.2"/>
<circle cx="760.0" cy="180.0" r="6.45" fill="#d29b14" fill-opacity="0.6" stroke="#d29b14" stroke-opacity="0.6" stroke-width="1.2"/>
<circle cx="780.6" cy="398.2" r="6.45" fill="#d29b14" fill-opacity="0.6" stroke="#d29b14" stroke-opacity="0.6" stroke-width="1.2"/>
<circle cx="874.8" cy="42.8" r="6.45" fill="#d29b14" fill-opacity="0.6" stroke="#d29b14" stroke-opacity="0.6" stroke-width="1.2"/>
<circle cx="831.7" cy="92.3" r="6.45" fill="#d29b14" fill-opacity="0.6" stroke="#d29b14" stroke-opacity="0.6" stroke-width="1.2"/>
<circle cx="797.4" cy="115.6" r="6.45" fill="#d29b14" fill-opacity="0.6" stroke="#d29b14" stroke-opacity="0.6" stroke-width="1.2"/>
<circle cx="736.6" cy="121.7" r="6.45" fill="#d29b14" fill-opacity="0.6" stroke="#d29b14" stroke-opacity="0.6" stroke-width="1.2"/>
<circle cx="735.1" cy="126.9" r="6.45" fill="#d29b14" fill-opacity="0.6" stroke="#d29b14" stroke-opacity="0.6" stroke-width="1.2"/>
<circle cx="719.9" cy="131.7" r="6.45" fill="#d29b14" fill-opacity="0.6" stroke="#d29b14" stroke-opacity="0.6" stroke-width="1.2"/>
<circle cx="821.7" cy="132.3" r="6.45" fill="#d29b14" fill-opacity="0.6" stroke="#d29b14" stroke-opacity="0.6" stroke-width="1.2"/>
<circle cx="800.4" cy="135.4" r="6.45" fill="#d29b14" fill-opacity="0.6" stroke="#d29b14" stroke-opacity="0.6" stroke-width="1.2"/>
<circle cx="796.8" cy="138.4" r="6.45" fill="#d29b14" fill-opacity="0.6" stroke="#d29b14" stroke-opacity="0.6" stroke-width="1.2"/>
<circle cx="773.1" cy="140.9" r="6.45" fill="#d29b14" fill-opacity="0.6" stroke="#d29b14" stroke-opacity="0.6" stroke-width="1.2"/>
<circle cx="716.9" cy="146.9" r="6.45" fill="#d29b14" fill-opacity="0.6" stroke="#d29b14" stroke-opacity="0.6" stroke-width="1.2"/>
<circle cx="709.3" cy="157.2" r="6.45" fill="#d29b14" fill-opacity="0.6" stroke="#d29b14" stroke-opacity="0.6" stroke-width="1.2"/>
<circle cx="695.6" cy="165.1" r="6.45" fill="#d29b14" fill-opacity="0.6" stroke="#d29b14" stroke-opacity="0.6" stroke-width="1.2"/>
<circle cx="678.3" cy="170.9" r="6.45" fill="#d29b14" fill-opacity="0.6" stroke="#d29b14" stroke-opacity="0.6" stroke-width="1.2"/>
<circle cx="865.7" cy="148.4" r="6.45" fill="#d29b14" fill-opacity="0.6" stroke="#d29b14" stroke-opacity="0.6" stroke-width="1.2"/>
<circle cx="864.2" cy="158.2" r="6.45" fill="#d29b14" fill-opacity="0.6" stroke="#d29b14" stroke-opacity="0.6" stroke-width="1.2"/>
<circle cx="869.6" cy="161.2" r="6.45" fill="#d29b14" fill-opacity="0.6" stroke="#d29b14" stroke-opacity="0.6" stroke-width="1.2"/>
<circle cx="741.2" cy="159.7" r="6.45" fill="#d29b14" fill-opacity="0.6" stroke="#d29b14" stroke-opacity="0.6" stroke-width="1.2"/>
<circle cx="724.5" cy="162.7" r="6.45" fill="#d29b14" fill-opacity="0.6" stroke="#d29b14" stroke-opacity="0.6" stroke-width="1.2"/>
<circle cx="818.6" cy="173.3" r="6.45" fill="#d29b14" fill-opacity="0.6" stroke="#d29b14" stroke-opacity="0.6" stroke-width="1.2"/>
<circle cx="835.3" cy="168.8" r="6.45" fill="#d29b14" fill-opacity="0.6" stroke="#d29b14" stroke-opacity="0.6" stroke-width="1.2"/>
<circle cx="841.4" cy="170.3" r="6.45" fill="#d29b14" fill-opacity="0.6" stroke="#d29b14" stroke-opacity="0.6" stroke-width="1.2"/>
<circle cx="833.8" cy="177.9" r="6.45" fill="#d29b14" fill-opacity="0.6" stroke="#d29b14" stroke-opacity="0.6" stroke-width="1.2"/>
<circle cx="862.7" cy="187.9" r="6.45" fill="#d29b14" fill-opacity="0.6" stroke="#d29b14" stroke-opacity="0.6" stroke-width="1.2"/>
<circle cx="870.2" cy="187.0" r="6.45" fill="#d29b14" fill-opacity="0.6" stroke="#d29b14" stroke-opacity="0.6" stroke-width="1.2"/>
<circle cx="847.5" cy="196.7" r="6.45" fill="#d29b14" fill-opacity="0.6" stroke="#d29b14" stroke-opacity="0.6" stroke-width="1.2"/>
<circle cx="832.3" cy="200.7" r="6.45" fill="#d29b14" fill-opacity="0.6" stroke="#d29b14" stroke-opacity="0.6" stroke-width="1.2"/>
<circle cx="824.7" cy="193.1" r="6.45" fill="#d29b14" fill-opacity="0.6" stroke="#d29b14" stroke-opacity="0.6" stroke-width="1.2"/>
<circle cx="827.7" cy="187.0" r="6.45" fill="#d29b14" fill-opacity="0.6" stroke="#d29b14" stroke-opacity="0.6" stroke-width="1.2"/>
<circle cx="688.1" cy="205.8" r="6.45" fill="#d29b14" fill-opacity="0.6" stroke="#d29b14" stroke-opacity="0.6" stroke-width="1.2"/>
<circle cx="666.2" cy="211.3" r="6.45" fill="#d29b14" fill-opacity="0.6" stroke="#d29b14" stroke-opacity="0.6" stroke-width="1.2"/>
<circle cx="654.7" cy="217.4" r="6.45" fill="#d29b14" fill-opacity="0.6" stroke="#d29b14" stroke-opacity="0.6" stroke-width="1.2"/>
<circle cx="703.2" cy="217.4" r="6.45" fill="#d29b14" fill-opacity="0.6" stroke="#d29b14" stroke-opacity="0.6" stroke-width="1.2"/>
<circle cx="852.0" cy="212.8" r="6.45" fill="#d29b14" fill-opacity="0.6" stroke="#d29b14" stroke-opacity="0.6" stroke-width="1.2"/>
<circle cx="870.2" cy="218.0" r="6.45" fill="#d29b14" fill-opacity="0.6" stroke="#d29b14" stroke-opacity="0.6" stroke-width="1.2"/>
<circle cx="891.5" cy="218.3" r="6.45" fill="#d29b14" fill-opacity="0.6" stroke="#d29b14" stroke-opacity="0.6" stroke-width="1.2"/>
<circle cx="842.9" cy="226.5" r="6.45" fill="#d29b14" fill-opacity="0.6" stroke="#d29b14" stroke-opacity="0.6" stroke-width="1.2"/>
<circle cx="818.6" cy="218.9" r="6.45" fill="#d29b14" fill-opacity="0.6" stroke="#d29b14" stroke-opacity="0.6" stroke-width="1.2"/>
<circle cx="798.9" cy="229.5" r="6.45" fill="#d29b14" fill-opacity="0.6" stroke="#d29b14" stroke-opacity="0.6" stroke-width="1.2"/>
<circle cx="759.4" cy="234.1" r="6.45" fill="#d29b14" fill-opacity="0.6" stroke="#d29b14" stroke-opacity="0.6" stroke-width="1.2"/>
<circle cx="727.5" cy="231.0" r="6.45" fill="#d29b14" fill-opacity="0.6" stroke="#d29b14" stroke-opacity="0.6" stroke-width="1.2"/>
<circle cx="733.6" cy="229.5" r="6.45" fill="#d29b14" fill-opacity="0.6" stroke="#d29b14" stroke-opacity="0.6" stroke-width="1.2"/>
<circle cx="787.3" cy="246.2" r="6.45" fill="#d29b14" fill-opacity="0.6" stroke="#d29b14" stroke-opacity="0.6" stroke-width="1.2"/>
<circle cx="797.4" cy="247.7" r="6.45" fill="#d29b14" fill-opacity="0.6" stroke="#d29b14" stroke-opacity="0.6" stroke-width="1.2"/>
<circle cx="793.4" cy="252.3" r="6.45" fill="#d29b14" fill-opacity="0.6" stroke="#d29b14" stroke-opacity="0.6" stroke-width="1.2"/>
<circle cx="751.8" cy="256.2" r="6.45" fill="#d29b14" fill-opacity="0.6" stroke="#d29b14" stroke-opacity="0.6" stroke-width="1.2"/>
<circle cx="790.4" cy="266.6" r="6.45" fill="#d29b14" fill-opacity="0.6" stroke="#d29b14" stroke-opacity="0.6" stroke-width="1.2"/>
<circle cx="733.0" cy="271.4" r="6.45" fill="#d29b14" fill-opacity="0.6" stroke="#d29b14" stroke-opacity="0.6" stroke-width="1.2"/>
<circle cx="812.6" cy="196.1" r="6.45" fill="#d29b14" fill-opacity="0.6" stroke="#d29b14" stroke-opacity="0.6" stroke-width="1.2"/>
<circle cx="814.1" cy="205.2" r="6.45" fill="#d29b14" fill-opacity="0.6" stroke="#d29b14" stroke-opacity="0.6" stroke-width="1.2"/>
<path d="M744.70 143.20L753.40 158.80L736.00 158.80Z" fill="#2f4f4f" fill-opacity="0.6"/>
<path d="M765.30 148.30L774.00 163.90L756.60 163.90Z" fill="#2f4f4f" fill-opacity="0.6"/>
<path d="M768.80 153.50L777.50 169.10L760.10 169.10Z" fill="#2f4f4f" fill-opacity="0.6"/>
<path d="M756.70 156.90L765.40 172.50L748.00 172.50Z" fill="#2f4f4f" fill-opacity="0.6"/>
<path d="M760.20 160.30L768.90 175.90L751.50 175.90Z" fill="#2f4f4f" fill-opacity="0.6"/>
<path d="M772.20 160.30L780.90 175.90L763.50 175.90Z" fill="#2f4f4f" fill-opacity="0.6"/>
<path d="M780.80 153.50L789.50 169.10L772.10 169.10Z" fill="#2f4f4f" fill-opacity="0.6"/>
<path d="M785.90 151.70L794.60 167.30L777.20 167.30Z" fill="#2f4f4f" fill-opacity="0.6"/>
<path d="M792.80 143.20L801.50 158.80L784.10 158.80Z" fill="#2f4f4f" fill-opacity="0.6"/>
<path d="M792.80 156.90L801.50 172.50L784.10 172.50Z" fill="#2f4f4f" fill-opacity="0.6"/>
<path d="M803.10 162.10L811.80 177.70L794.40 177.70Z" fill="#2f4f4f" fill-opacity="0.6"/>
<path d="M804.90 170.70L813.60 186.30L796.20 186.30Z" fill="#2f4f4f" fill-opacity="0.6"/>
<path d="M796.30 170.70L805.00 186.30L787.60 186.30Z" fill="#2f4f4f" fill-opacity="0.6"/>
<path d="M789.40 158.60L798.10 174.20L780.70 174.20Z" fill="#2f4f4f" fill-opacity="0.6"/>
<path d="M744.70 174.10L753.40 189.70L736.00 189.70Z" fill="#2f4f4f" fill-opacity="0.6"/>
<path d="M724.10 182.70L732.80 198.30L715.40 198.30Z" fill="#2f4f4f" fill-opacity="0.6"/>
<path d="M734.40 191.30L743.10 206.90L725.70 206.90Z" fill="#2f4f4f" fill-opacity="0.6"/>
<path d="M743.00 189.60L751.70 205.20L734.30 205.20Z" fill="#2f4f4f" fill-opacity="0.6"/>
<path d="M725.80 203.30L734.50 218.90L717.10 218.90Z" fill="#2f4f4f" fill-opacity="0.6"/>
<path d="M741.30 205.00L750.00 220.60L732.60 220.60Z" fill="#2f4f4f" fill-opacity="0.6"/>
<path d="M768.80 184.40L777.50 200.00L760.10 200.00Z" fill="#2f4f4f" fill-opacity="0.6"/>
<path d="M772.20 182.70L780.90 198.30L763.50 198.30Z" fill="#2f4f4f" fill-opacity="0.6"/>
<path d="M779.10 181.00L787.80 196.60L770.40 196.60Z" fill="#2f4f4f" fill-opacity="0.6"/>
<path d="M765.30 191.30L774.00 206.90L756.60 206.90Z" fill="#2f4f4f" fill-opacity="0.6"/>
<path d="M768.80 198.20L777.50 213.80L760.10 213.80Z" fill="#2f4f4f" fill-opacity="0.6"/>
<path d="M772.20 205.00L780.90 220.60L763.50 220.60Z" fill="#2f4f4f" fill-opacity="0.6"/>
<path d="M780.80 205.00L789.50 220.60L772.10 220.60Z" fill="#2f4f4f" fill-opacity="0.6"/>
<path d="M799.70 196.40L808.40 212.00L791.00 212.00Z" fill="#2f4f4f" fill-opacity="0.6"/>
<path d="M806.60 203.30L815.30 218.90L797.90 218.90Z" fill="#2f4f4f" fill-opacity="0.6"/>
<path d="M811.70 205.00L820.40 220.60L803.00 220.60Z" fill="#2f4f4f" fill-opacity="0.6"/>
<path d="M803.10 175.80L811.80 191.40L794.40 191.40Z" fill="#2f4f4f" fill-opacity="0.6"/>
<path d="M755.00 150.00L763.70 165.60L746.30 165.60Z" fill="#2f4f4f" fill-opacity="0.6"/>
<path d="M777.40 158.60L786.10 174.20L768.70 174.20Z" fill="#2f4f4f" fill-opacity="0.6"/>
<path d="M782.50 165.50L791.20 181.10L773.80 181.10Z" fill="#2f4f4f" fill-opacity="0.6"/>
<path d="M796.30 150.00L805.00 165.60L787.60 165.60Z" fill="#2f4f4f" fill-opacity="0.6"/>
<path d="M801.40 163.80L810.10 179.40L792.70 179.40Z" fill="#2f4f4f" fill-opacity="0.6"/>
<path d="M767.00 167.20L775.70 182.80L758.30 182.80Z" fill="#2f4f4f" fill-opacity="0.6"/>
<path d="M760.20 184.40L768.90 200.00L751.50 200.00Z" fill="#2f4f4f" fill-opacity="0.6"/>
<path d="M775.60 191.30L784.30 206.90L766.90 206.90Z" fill="#2f4f4f" fill-opacity="0.6"/>
<path d="M785.90 194.70L794.60 210.30L777.20 210.30Z" fill="#2f4f4f" fill-opacity="0.6"/>
<path d="M789.40 184.40L798.10 200.00L780.70 200.00Z" fill="#2f4f4f" fill-opacity="0.6"/>
<path d="M761.90 198.20L770.60 213.80L753.20 213.80Z" fill="#2f4f4f" fill-opacity="0.6"/>
<path d="M803.10 191.30L811.80 206.90L794.40 206.90Z" fill="#2f4f4f" fill-opacity="0.6"/>
<path d="M820.30 198.20L829.00 213.80L811.60 213.80Z" fill="#2f4f4f" fill-opacity="0.6"/>
<path d="M717.20 198.20L725.90 213.80L708.50 213.80Z" fill="#2f4f4f" fill-opacity="0.6"/>
<path d="M734.40 201.60L743.10 217.20L725.70 217.20Z" fill="#2f4f4f" fill-opacity="0.6"/>
<path d="M758.70 155.30L767.40 170.90L750.00 170.90Z" fill="#2f4f4f" fill-opacity="0.6"/>
<path d="M771.30 152.80L780.00 168.40L762.60 168.40Z" fill="#2f4f4f" fill-opacity="0.6"/>
<path d="M786.50 152.80L795.20 168.40L777.80 168.40Z" fill="#2f4f4f" fill-opacity="0.6"/>
<path d="M778.90 162.90L787.60 178.50L770.20 178.50Z" fill="#2f4f4f" fill-opacity="0.6"/>
<path d="M766.30 185.70L775.00 201.30L757.60 201.30Z" fill="#2f4f4f" fill-opacity="0.6"/>
<path d="M776.40 183.10L785.10 198.70L767.70 198.70Z" fill="#2f4f4f" fill-opacity="0.6"/>
<path d="M761.20 198.30L769.90 213.90L752.50 213.90Z" fill="#2f4f4f" fill-opacity="0.6"/>
<path d="M776.40 203.30L785.10 218.90L767.70 218.90Z" fill="#2f4f4f" fill-opacity="0.6"/>
<path d="M786.50 198.30L795.20 213.90L777.80 213.90Z" fill="#2f4f4f" fill-opacity="0.6"/>
<path d="M804.20 203.30L812.90 218.90L795.50 218.90Z" fill="#2f4f4f" fill-opacity="0.6"/>
<path d="M814.30 205.90L823.00 221.50L805.60 221.50Z" fill="#2f4f4f" fill-opacity="0.6"/>
<path d="M824.40 205.90L833.10 221.50L815.70 221.50Z" fill="#2f4f4f" fill-opacity="0.6"/>
<path d="M708.10 198.30L716.80 213.90L699.40 213.90Z" fill="#2f4f4f" fill-opacity="0.6"/>
<path d="M723.30 203.30L732.00 218.90L714.60 218.90Z" fill="#2f4f4f" fill-opacity="0.6"/>
<path d="M801.70 162.90L810.40 178.50L793.00 178.50Z" fill="#2f4f4f" fill-opacity="0.6"/>
<path d="M796.60 155.30L805.30 170.90L787.90 170.90Z" fill="#2f4f4f" fill-opacity="0.6"/>
<path d="M755.00 151.90L763.70 167.50L746.30 167.50Z" fill="#2f4f4f" fill-opacity="0.6"/>
<path d="M770.00 149.90L778.70 165.50L761.30 165.50Z" fill="#2f4f4f" fill-opacity="0.6"/>
<path d="M790.00 153.90L798.70 169.50L781.30 169.50Z" fill="#2f4f4f" fill-opacity="0.6"/>
<path d="M805.00 149.90L813.70 165.50L796.30 165.50Z" fill="#2f4f4f" fill-opacity="0.6"/>
<path d="M765.00 186.90L773.70 202.50L756.30 202.50Z" fill="#2f4f4f" fill-opacity="0.6"/>
<path d="M780.00 183.90L788.70 199.50L771.30 199.50Z" fill="#2f4f4f" fill-opacity="0.6"/>
<path d="M795.00 188.90L803.70 204.50L786.30 204.50Z" fill="#2f4f4f" fill-opacity="0.6"/>
<path d="M805.00 203.90L813.70 219.50L796.30 219.50Z" fill="#2f4f4f" fill-opacity="0.6"/>
<path d="M820.00 205.90L828.70 221.50L811.30 221.50Z" fill="#2f4f4f" fill-opacity="0.6"/>
<path d="M830.00 201.90L838.70 217.50L821.30 217.50Z" fill="#2f4f4f" fill-opacity="0.6"/>
<path d="M814.10 37.70L822.80 53.30L805.40 53.30Z" fill="#2f4f4f" fill-opacity="0.6"/>
<path d="M769.40 54.40L778.10 70.00L760.70 70.00Z" fill="#2f4f4f" fill-opacity="0.6"/>
<path d="M771.00 93.90L779.70 109.50L762.30 109.50Z" fill="#2f4f4f" fill-opacity="0.6"/>
<path d="M789.80 112.10L798.50 127.70L781.10 127.70Z" fill="#2f4f4f" fill-opacity="0.6"/>
<path d="M816.50 107.50L825.20 123.10L807.80 123.10Z" fill="#2f4f4f" fill-opacity="0.6"/>
<path d="M735.70 118.20L744.40 133.80L727.00 133.80Z" fill="#2f4f4f" fill-opacity="0.6"/>
<path d="M723.00 128.80L731.70 144.40L714.30 144.40Z" fill="#2f4f4f" fill-opacity="0.6"/>
<path d="M753.30 128.20L762.00 143.80L744.60 143.80Z" fill="#2f4f4f" fill-opacity="0.6"/>
<path d="M765.50 127.30L774.20 142.90L756.80 142.90Z" fill="#2f4f4f" fill-opacity="0.6"/>
<path d="M816.20 128.80L824.90 144.40L807.50 144.40Z" fill="#2f4f4f" fill-opacity="0.6"/>
<path d="M874.20 128.20L882.90 143.80L865.50 143.80Z" fill="#2f4f4f" fill-opacity="0.6"/>
<path d="M682.00 141.90L690.70 157.50L673.30 157.50Z" fill="#2f4f4f" fill-opacity="0.6"/>
<path d="M696.60 144.00L705.30 159.60L687.90 159.60Z" fill="#2f4f4f" fill-opacity="0.6"/>
<path d="M824.70 147.00L833.40 162.60L816.00 162.60Z" fill="#2f4f4f" fill-opacity="0.6"/>
<path d="M835.30 147.90L844.00 163.50L826.60 163.50Z" fill="#2f4f4f" fill-opacity="0.6"/>
<path d="M809.50 145.50L818.20 161.10L800.80 161.10Z" fill="#2f4f4f" fill-opacity="0.6"/>
<path d="M631.00 167.40L639.70 183.00L622.30 183.00Z" fill="#2f4f4f" fill-opacity="0.6"/>
<path d="M704.80 169.80L713.50 185.40L696.10 185.40Z" fill="#2f4f4f" fill-opacity="0.6"/>
<path d="M719.30 157.60L728.00 173.20L710.60 173.20Z" fill="#2f4f4f" fill-opacity="0.6"/>
<path d="M727.50 151.60L736.20 167.20L718.80 167.20Z" fill="#2f4f4f" fill-opacity="0.6"/>
<path d="M849.60 166.80L858.30 182.40L840.90 182.40Z" fill="#2f4f4f" fill-opacity="0.6"/>
<path d="M861.10 191.00L869.80 206.60L852.40 206.60Z" fill="#2f4f4f" fill-opacity="0.6"/>
<path d="M842.90 201.70L851.60 217.30L834.20 217.30Z" fill="#2f4f4f" fill-opacity="0.6"/>
<path d="M849.60 203.80L858.30 219.40L840.90 219.40Z" fill="#2f4f4f" fill-opacity="0.6"/>
<path d="M881.80 217.50L890.50 233.10L873.10 233.10Z" fill="#2f4f4f" fill-opacity="0.6"/>
<path d="M667.40 208.70L676.10 224.30L658.70 224.30Z" fill="#2f4f4f" fill-opacity="0.6"/>
<path d="M706.30 203.20L715.00 218.80L697.60 218.80Z" fill="#2f4f4f" fill-opacity="0.6"/>
<path d="M707.80 192.60L716.50 208.20L699.10 208.20Z" fill="#2f4f4f" fill-opacity="0.6"/>
<path d="M760.90 212.30L769.60 227.90L752.20 227.90Z" fill="#2f4f4f" fill-opacity="0.6"/>
<path d="M809.50 207.80L818.20 223.40L800.80 223.40Z" fill="#2f4f4f" fill-opacity="0.6"/>
<path d="M824.70 206.20L833.40 221.80L816.00 221.80Z" fill="#2f4f4f" fill-opacity="0.6"/>
<path d="M830.80 206.20L839.50 221.80L822.10 221.80Z" fill="#2f4f4f" fill-opacity="0.6"/>
<rect x="558.6" y="0.5" width="429.70" height="428.80" fill="none" stroke="#333" stroke-width="1.1"/>
<g stroke="#ebebeb" stroke-width="1.1" fill="none">
<line x1="159.60" y1="500.5" x2="159.60" y2="929.3"/>
<line x1="283.80" y1="500.5" x2="283.80" y2="929.3"/>
<line x1="408.00" y1="500.5" x2="408.00" y2="929.3"/>
<line x1="97.50" y1="500.5" x2="97.50" y2="929.3"/>
<line x1="221.70" y1="500.5" x2="221.70" y2="929.3"/>
<line x1="345.90" y1="500.5" x2="345.90" y2="929.3"/>
<line x1="470.10" y1="500.5" x2="470.10" y2="929.3"/>
<line x1="79.1" y1="566.00" x2="488.6" y2="566.00"/>
<line x1="79.1" y1="659.00" x2="488.6" y2="659.00"/>
<line x1="79.1" y1="752.00" x2="488.6" y2="752.00"/>
<line x1="79.1" y1="845.00" x2="488.6" y2="845.00"/>
<line x1="79.1" y1="519.50" x2="488.6" y2="519.50"/>
<line x1="79.1" y1="612.50" x2="488.6" y2="612.50"/>
<line x1="79.1" y1="705.50" x2="488.6" y2="705.50"/>
<line x1="79.1" y1="798.50" x2="488.6" y2="798.50"/>
<line x1="79.1" y1="891.50" x2="488.6" y2="891.50"/>
</g>
<g stroke="#333" stroke-width="1.1">
<line x1="97.50" y1="929.3" x2="97.50" y2="933.00"/>
<line x1="221.70" y1="929.3" x2="221.70" y2="933.00"/>
<line x1="345.90" y1="929.3" x2="345.90" y2="933.00"/>
<line x1="470.10" y1="929.3" x2="470.10" y2="933.00"/>
<line x1="75.40" y1="519.50" x2="79.1" y2="519.50"/>
<line x1="75.40" y1="612.50" x2="79.1" y2="612.50"/>
<line x1="75.40" y1="705.50" x2="79.1" y2="705.50"/>
<line x1="75.40" y1="798.50" x2="79.1" y2="798.50"/>
<line x1="75.40" y1="891.50" x2="79.1" y2="891.50"/>
</g>
<g font-family='"Liberation Sans", sans-serif' font-size="25.2" fill="#4d4d4d">
<text x="97.50" y="953.50" text-anchor="middle">-20</text>
<text x="221.70" y="953.50" text-anchor="middle">-10</text>
<text x="345.90" y="953.50" text-anchor="middle">0</text>
<text x="470.10" y="953.50" text-anchor="middle">10</text>
<text x="72.20" y="528.30" text-anchor="end">1.0</text>
<text x="72.20" y="621.30" text-anchor="end">0.5</text>
<text x="72.20" y="714.30" text-anchor="end">0.0</text>
<text x="72.20" y="807.30" text-anchor="end">-0.5</text>
<text x="72.20" y="900.30" text-anchor="end">-1.0</text>
</g>
<text x="283.85" y="981.5" text-anchor="middle" font-family='"Liberation Sans", sans-serif' font-size="27.5" fill="#000">Difference in Adjusted TEE</text>
<text transform="translate(21.3,714.90) rotate(-90)" x="0" y="0" text-anchor="middle" font-family='"Liberation Sans", sans-serif' font-size="27.5" fill="#000">Change in weight (kg/week)</text>
<text x="3.3" y="524.5" font-family='"Liberation Sans", sans-serif' font-size="29" font-weight="bold" fill="#000">c</text>
<path d="M106.7 720.7 L112.7 720.5 L118.6 720.2 L124.6 720.0 L130.6 719.8 L136.5 719.5 L142.5 719.3 L148.5 719.1 L154.4 718.8 L160.4 718.6 L166.4 718.4 L172.3 718.1 L178.3 717.9 L184.3 717.6 L190.2 717.4 L196.2 717.2 L202.2 716.9 L208.1 716.7 L214.1 716.4 L220.1 716.2 L226.0 715.9 L232.0 715.7 L238.0 715.4 L243.9 715.2 L249.9 714.9 L255.9 714.7 L261.8 714.4 L267.8 714.1 L273.8 713.8 L279.7 713.6 L285.7 713.3 L291.7 713.0 L297.6 712.7 L303.6 712.3 L309.6 712.0 L315.5 711.6 L321.5 711.2 L327.5 710.8 L333.4 710.3 L339.4 709.7 L345.4 709.0 L351.3 708.3 L357.3 707.5 L363.3 706.5 L369.2 705.5 L375.2 704.4 L381.2 703.2 L387.1 701.9 L393.1 700.6 L399.1 699.3 L405.0 698.0 L411.0 696.6 L417.0 695.2 L422.9 693.8 L428.9 692.4 L434.9 691.0 L440.8 689.6 L446.8 688.1 L452.8 686.7 L458.7 685.2 L464.7 683.8 L464.7 708.0 L458.7 708.3 L452.8 708.5 L446.8 708.8 L440.8 709.1 L434.9 709.3 L428.9 709.6 L422.9 709.9 L417.0 710.2 L411.0 710.5 L405.0 710.9 L399.1 711.2 L393.1 711.6 L387.1 712.0 L381.2 712.5 L375.2 713.0 L369.2 713.6 L363.3 714.2 L357.3 715.0 L351.3 715.9 L345.4 716.8 L339.4 717.9 L333.4 719.0 L327.5 720.2 L321.5 721.5 L315.5 722.8 L309.6 724.1 L303.6 725.5 L297.6 726.8 L291.7 728.2 L285.7 729.6 L279.7 731.0 L273.8 732.5 L267.8 733.9 L261.8 735.3 L255.9 736.8 L249.9 738.2 L243.9 739.6 L238.0 741.1 L232.0 742.5 L226.0 744.0 L220.1 745.5 L214.1 746.9 L208.1 748.4 L202.2 749.8 L196.2 751.3 L190.2 752.8 L184.3 754.2 L178.3 755.7 L172.3 757.1 L166.4 758.6 L160.4 760.1 L154.4 761.5 L148.5 763.0 L142.5 764.5 L136.5 766.0 L130.6 767.4 L124.6 768.9 L118.6 770.4 L112.7 771.8 L106.7 773.3Z" fill="#999999" fill-opacity="0.4"/>
<line x1="106.7" y1="747.0" x2="464.7" y2="695.9" stroke="#000" stroke-width="2.4"/>
<circle cx="323.9" cy="674.0" r="6.45" fill="#d29b14" fill-opacity="0.6" stroke="#d29b14" stroke-opacity="0.6" stroke-width="1.2"/>
<circle cx="353.7" cy="678.3" r="6.45" fill="#d29b14" fill-opacity="0.6" stroke="#d29b14" stroke-opacity="0.6" stroke-width="1.2"/>
<circle cx="365.0" cy="685.3" r="6.45" fill="#d29b14" fill-opacity="0.6" stroke="#d29b14" stroke-opacity="0.6" stroke-width="1.2"/>
<circle cx="370.7" cy="683.9" r="6.45" fill="#d29b14" fill-opacity="0.6" stroke="#d29b14" stroke-opacity="0.6" stroke-width="1.2"/>
<circle cx="306.9" cy="682.5" r="6.45" fill="#d29b14" fill-opacity="0.6" stroke="#d29b14" stroke-opacity="0.6" stroke-width="1.2"/>
<circle cx="311.2" cy="689.6" r="6.45" fill="#d29b14" fill-opacity="0.6" stroke="#d29b14" stroke-opacity="0.6" stroke-width="1.2"/>
<circle cx="305.5" cy="700.9" r="6.45" fill="#d29b14" fill-opacity="0.6" stroke="#d29b14" stroke-opacity="0.6" stroke-width="1.2"/>
<circle cx="294.2" cy="699.5" r="6.45" fill="#d29b14" fill-opacity="0.6" stroke="#d29b14" stroke-opacity="0.6" stroke-width="1.2"/>
<circle cx="314.0" cy="693.8" r="6.45" fill="#d29b14" fill-opacity="0.6" stroke="#d29b14" stroke-opacity="0.6" stroke-width="1.2"/>
<circle cx="393.4" cy="674.0" r="6.45" fill="#d29b14" fill-opacity="0.6" stroke="#d29b14" stroke-opacity="0.6" stroke-width="1.2"/>
<circle cx="397.6" cy="682.5" r="6.45" fill="#d29b14" fill-opacity="0.6" stroke="#d29b14" stroke-opacity="0.6" stroke-width="1.2"/>
<circle cx="360.8" cy="692.4" r="6.45" fill="#d29b14" fill-opacity="0.6" stroke="#d29b14" stroke-opacity="0.6" stroke-width="1.2"/>
<circle cx="356.5" cy="699.5" r="6.45" fill="#d29b14" fill-opacity="0.6" stroke="#d29b14" stroke-opacity="0.6" stroke-width="1.2"/>
<circle cx="365.0" cy="702.3" r="6.45" fill="#d29b14" fill-opacity="0.6" stroke="#d29b14" stroke-opacity="0.6" stroke-width="1.2"/>
<circle cx="404.7" cy="710.9" r="6.45" fill="#d29b14" fill-opacity="0.6" stroke="#d29b14" stroke-opacity="0.6" stroke-width="1.2"/>
<circle cx="382.0" cy="720.8" r="6.45" fill="#d29b14" fill-opacity="0.6" stroke="#d29b14" stroke-opacity="0.6" stroke-width="1.2"/>
<circle cx="386.3" cy="725.0" r="6.45" fill="#d29b14" fill-opacity="0.6" stroke="#d29b14" stroke-opacity="0.6" stroke-width="1.2"/>
<circle cx="308.3" cy="720.8" r="6.45" fill="#d29b14" fill-opacity="0.6" stroke="#d29b14" stroke-opacity="0.6" stroke-width="1.2"/>
<circle cx="316.8" cy="725.0" r="6.45" fill="#d29b14" fill-opacity="0.6" stroke="#d29b14" stroke-opacity="0.6" stroke-width="1.2"/>
<circle cx="294.2" cy="725.0" r="6.45" fill="#d29b14" fill-opacity="0.6" stroke="#d29b14" stroke-opacity="0.6" stroke-width="1.2"/>
<circle cx="350.9" cy="739.2" r="6.45" fill="#d29b14" fill-opacity="0.6" stroke="#d29b14" stroke-opacity="0.6" stroke-width="1.2"/>
<circle cx="359.4" cy="739.2" r="6.45" fill="#d29b14" fill-opacity="0.6" stroke="#d29b14" stroke-opacity="0.6" stroke-width="1.2"/>
<circle cx="336.7" cy="751.9" r="6.45" fill="#d29b14" fill-opacity="0.6" stroke="#d29b14" stroke-opacity="0.6" stroke-width="1.2"/>
<circle cx="345.2" cy="750.5" r="6.45" fill="#d29b14" fill-opacity="0.6" stroke="#d29b14" stroke-opacity="0.6" stroke-width="1.2"/>
<circle cx="363.6" cy="757.6" r="6.45" fill="#d29b14" fill-opacity="0.6" stroke="#d29b14" stroke-opacity="0.6" stroke-width="1.2"/>
<circle cx="356.5" cy="764.7" r="6.45" fill="#d29b14" fill-opacity="0.6" stroke="#d29b14" stroke-opacity="0.6" stroke-width="1.2"/>
<circle cx="367.9" cy="725.0" r="6.45" fill="#d29b14" fill-opacity="0.6" stroke="#d29b14" stroke-opacity="0.6" stroke-width="1.2"/>
<circle cx="336.7" cy="722.2" r="6.45" fill="#d29b14" fill-opacity="0.6" stroke="#d29b14" stroke-opacity="0.6" stroke-width="1.2"/>
<circle cx="350.9" cy="725.0" r="6.45" fill="#d29b14" fill-opacity="0.6" stroke="#d29b14" stroke-opacity="0.6" stroke-width="1.2"/>
<circle cx="319.7" cy="699.5" r="6.45" fill="#d29b14" fill-opacity="0.6" stroke="#d29b14" stroke-opacity="0.6" stroke-width="1.2"/>
<circle cx="329.6" cy="689.6" r="6.45" fill="#d29b14" fill-opacity="0.6" stroke="#d29b14" stroke-opacity="0.6" stroke-width="1.2"/>
<circle cx="348.0" cy="699.5" r="6.45" fill="#d29b14" fill-opacity="0.6" stroke="#d29b14" stroke-opacity="0.6" stroke-width="1.2"/>
<circle cx="316.8" cy="682.5" r="6.45" fill="#d29b14" fill-opacity="0.6" stroke="#d29b14" stroke-opacity="0.6" stroke-width="1.2"/>
<circle cx="339.5" cy="725.0" r="6.45" fill="#d29b14" fill-opacity="0.6" stroke="#d29b14" stroke-opacity="0.6" stroke-width="1.2"/>
<circle cx="322.5" cy="722.2" r="6.45" fill="#d29b14" fill-opacity="0.6" stroke="#d29b14" stroke-opacity="0.6" stroke-width="1.2"/>
<circle cx="357.9" cy="710.9" r="6.45" fill="#d29b14" fill-opacity="0.6" stroke="#d29b14" stroke-opacity="0.6" stroke-width="1.2"/>
<circle cx="379.2" cy="703.8" r="6.45" fill="#d29b14" fill-opacity="0.6" stroke="#d29b14" stroke-opacity="0.6" stroke-width="1.2"/>
<circle cx="372.1" cy="693.8" r="6.45" fill="#d29b14" fill-opacity="0.6" stroke="#d29b14" stroke-opacity="0.6" stroke-width="1.2"/>
<circle cx="308.3" cy="710.9" r="6.45" fill="#d29b14" fill-opacity="0.6" stroke="#d29b14" stroke-opacity="0.6" stroke-width="1.2"/>
<circle cx="326.8" cy="732.1" r="6.45" fill="#d29b14" fill-opacity="0.6" stroke="#d29b14" stroke-opacity="0.6" stroke-width="1.2"/>
<circle cx="348.0" cy="732.1" r="6.45" fill="#d29b14" fill-opacity="0.6" stroke="#d29b14" stroke-opacity="0.6" stroke-width="1.2"/>
<circle cx="367.9" cy="739.2" r="6.45" fill="#d29b14" fill-opacity="0.6" stroke="#d29b14" stroke-opacity="0.6" stroke-width="1.2"/>
<circle cx="386.3" cy="713.7" r="6.45" fill="#d29b14" fill-opacity="0.6" stroke="#d29b14" stroke-opacity="0.6" stroke-width="1.2"/>
<circle cx="298.4" cy="713.7" r="6.45" fill="#d29b14" fill-opacity="0.6" stroke="#d29b14" stroke-opacity="0.6" stroke-width="1.2"/>
<circle cx="317.2" cy="686.9" r="6.45" fill="#d29b14" fill-opacity="0.6" stroke="#d29b14" stroke-opacity="0.6" stroke-width="1.2"/>
<circle cx="326.9" cy="677.2" r="6.45" fill="#d29b14" fill-opacity="0.6" stroke="#d29b14" stroke-opacity="0.6" stroke-width="1.2"/>
<circle cx="356.0" cy="667.4" r="6.45" fill="#d29b14" fill-opacity="0.6" stroke="#d29b14" stroke-opacity="0.6" stroke-width="1.2"/>
<circle cx="365.7" cy="686.9" r="6.45" fill="#d29b14" fill-opacity="0.6" stroke="#d29b14" stroke-opacity="0.6" stroke-width="1.2"/>
<circle cx="375.5" cy="706.3" r="6.45" fill="#d29b14" fill-opacity="0.6" stroke="#d29b14" stroke-opacity="0.6" stroke-width="1.2"/>
<circle cx="385.2" cy="720.9" r="6.45" fill="#d29b14" fill-opacity="0.6" stroke="#d29b14" stroke-opacity="0.6" stroke-width="1.2"/>
<circle cx="305.0" cy="725.7" r="6.45" fill="#d29b14" fill-opacity="0.6" stroke="#d29b14" stroke-opacity="0.6" stroke-width="1.2"/>
<circle cx="297.7" cy="701.5" r="6.45" fill="#d29b14" fill-opacity="0.6" stroke="#d29b14" stroke-opacity="0.6" stroke-width="1.2"/>
<circle cx="292.9" cy="694.2" r="6.45" fill="#d29b14" fill-opacity="0.6" stroke="#d29b14" stroke-opacity="0.6" stroke-width="1.2"/>
<circle cx="322.0" cy="745.2" r="6.45" fill="#d29b14" fill-opacity="0.6" stroke="#d29b14" stroke-opacity="0.6" stroke-width="1.2"/>
<circle cx="341.5" cy="750.0" r="6.45" fill="#d29b14" fill-opacity="0.6" stroke="#d29b14" stroke-opacity="0.6" stroke-width="1.2"/>
<circle cx="360.9" cy="750.0" r="6.45" fill="#d29b14" fill-opacity="0.6" stroke="#d29b14" stroke-opacity="0.6" stroke-width="1.2"/>
<circle cx="385.2" cy="730.6" r="6.45" fill="#d29b14" fill-opacity="0.6" stroke="#d29b14" stroke-opacity="0.6" stroke-width="1.2"/>
<circle cx="300.2" cy="730.6" r="6.45" fill="#d29b14" fill-opacity="0.6" stroke="#d29b14" stroke-opacity="0.6" stroke-width="1.2"/>
<circle cx="356.0" cy="696.6" r="6.45" fill="#d29b14" fill-opacity="0.6" stroke="#d29b14" stroke-opacity="0.6" stroke-width="1.2"/>
<circle cx="341.5" cy="691.7" r="6.45" fill="#d29b14" fill-opacity="0.6" stroke="#d29b14" stroke-opacity="0.6" stroke-width="1.2"/>
<circle cx="312.3" cy="720.9" r="6.45" fill="#d29b14" fill-opacity="0.6" stroke="#d29b14" stroke-opacity="0.6" stroke-width="1.2"/>
<circle cx="329.3" cy="694.2" r="6.45" fill="#d29b14" fill-opacity="0.6" stroke="#d29b14" stroke-opacity="0.6" stroke-width="1.2"/>
<circle cx="346.3" cy="696.6" r="6.45" fill="#d29b14" fill-opacity="0.6" stroke="#d29b14" stroke-opacity="0.6" stroke-width="1.2"/>
<circle cx="334.2" cy="716.0" r="6.45" fill="#d29b14" fill-opacity="0.6" stroke="#d29b14" stroke-opacity="0.6" stroke-width="1.2"/>
<circle cx="351.2" cy="720.9" r="6.45" fill="#d29b14" fill-opacity="0.6" stroke="#d29b14" stroke-opacity="0.6" stroke-width="1.2"/>
<circle cx="322.0" cy="706.3" r="6.45" fill="#d29b14" fill-opacity="0.6" stroke="#d29b14" stroke-opacity="0.6" stroke-width="1.2"/>
<circle cx="365.7" cy="706.3" r="6.45" fill="#d29b14" fill-opacity="0.6" stroke="#d29b14" stroke-opacity="0.6" stroke-width="1.2"/>
<circle cx="360.9" cy="730.6" r="6.45" fill="#d29b14" fill-opacity="0.6" stroke="#d29b14" stroke-opacity="0.6" stroke-width="1.2"/>
<circle cx="331.7" cy="735.5" r="6.45" fill="#d29b14" fill-opacity="0.6" stroke="#d29b14" stroke-opacity="0.6" stroke-width="1.2"/>
<circle cx="375.5" cy="720.9" r="6.45" fill="#d29b14" fill-opacity="0.6" stroke="#d29b14" stroke-opacity="0.6" stroke-width="1.2"/>
<circle cx="341.5" cy="672.3" r="6.45" fill="#d29b14" fill-opacity="0.6" stroke="#d29b14" stroke-opacity="0.6" stroke-width="1.2"/>
<circle cx="312.3" cy="682.0" r="6.45" fill="#d29b14" fill-opacity="0.6" stroke="#d29b14" stroke-opacity="0.6" stroke-width="1.2"/>
<circle cx="302.6" cy="689.3" r="6.45" fill="#d29b14" fill-opacity="0.6" stroke="#d29b14" stroke-opacity="0.6" stroke-width="1.2"/>
<circle cx="307.4" cy="706.3" r="6.45" fill="#d29b14" fill-opacity="0.6" stroke="#d29b14" stroke-opacity="0.6" stroke-width="1.2"/>
<circle cx="106.5" cy="734.5" r="6.45" fill="#d29b14" fill-opacity="0.6" stroke="#d29b14" stroke-opacity="0.6" stroke-width="1.2"/>
<circle cx="360.7" cy="618.8" r="6.45" fill="#d29b14" fill-opacity="0.6" stroke="#d29b14" stroke-opacity="0.6" stroke-width="1.2"/>
<circle cx="370.7" cy="621.9" r="6.45" fill="#d29b14" fill-opacity="0.6" stroke="#d29b14" stroke-opacity="0.6" stroke-width="1.2"/>
<circle cx="307.5" cy="631.0" r="6.45" fill="#d29b14" fill-opacity="0.6" stroke="#d29b14" stroke-opacity="0.6" stroke-width="1.2"/>
<circle cx="340.3" cy="640.1" r="6.45" fill="#d29b14" fill-opacity="0.6" stroke="#d29b14" stroke-opacity="0.6" stroke-width="1.2"/>
<circle cx="378.9" cy="635.5" r="6.45" fill="#d29b14" fill-opacity="0.6" stroke="#d29b14" stroke-opacity="0.6" stroke-width="1.2"/>
<circle cx="399.5" cy="644.7" r="6.45" fill="#d29b14" fill-opacity="0.6" stroke="#d29b14" stroke-opacity="0.6" stroke-width="1.2"/>
<circle cx="416.8" cy="645.3" r="6.45" fill="#d29b14" fill-opacity="0.6" stroke="#d29b14" stroke-opacity="0.6" stroke-width="1.2"/>
<circle cx="464.5" cy="656.8" r="6.45" fill="#d29b14" fill-opacity="0.6" stroke="#d29b14" stroke-opacity="0.6" stroke-width="1.2"/>
<circle cx="263.5" cy="663.8" r="6.45" fill="#d29b14" fill-opacity="0.6" stroke="#d29b14" stroke-opacity="0.6" stroke-width="1.2"/>
<circle cx="233.1" cy="677.4" r="6.45" fill="#d29b14" fill-opacity="0.6" stroke="#d29b14" stroke-opacity="0.6" stroke-width="1.2"/>
<circle cx="313.6" cy="662.9" r="6.45" fill="#d29b14" fill-opacity="0.6" stroke="#d29b14" stroke-opacity="0.6" stroke-width="1.2"/>
<circle cx="327.3" cy="658.3" r="6.45" fill="#d29b14" fill-opacity="0.6" stroke="#d29b14" stroke-opacity="0.6" stroke-width="1.2"/>
<circle cx="299.9" cy="668.3" r="6.45" fill="#d29b14" fill-opacity="0.6" stroke="#d29b14" stroke-opacity="0.6" stroke-width="1.2"/>
<circle cx="356.1" cy="655.3" r="6.45" fill="#d29b14" fill-opacity="0.6" stroke="#d29b14" stroke-opacity="0.6" stroke-width="1.2"/>
<circle cx="357.0" cy="668.3" r="6.45" fill="#d29b14" fill-opacity="0.6" stroke="#d29b14" stroke-opacity="0.6" stroke-width="1.2"/>
<circle cx="400.7" cy="653.8" r="6.45" fill="#d29b14" fill-opacity="0.6" stroke="#d29b14" stroke-opacity="0.6" stroke-width="1.2"/>
<circle cx="395.6" cy="662.9" r="6.45" fill="#d29b14" fill-opacity="0.6" stroke="#d29b14" stroke-opacity="0.6" stroke-width="1.2"/>
<circle cx="406.2" cy="662.9" r="6.45" fill="#d29b14" fill-opacity="0.6" stroke="#d29b14" stroke-opacity="0.6" stroke-width="1.2"/>
<circle cx="410.8" cy="663.8" r="6.45" fill="#d29b14" fill-opacity="0.6" stroke="#d29b14" stroke-opacity="0.6" stroke-width="1.2"/>
<circle cx="394.1" cy="672.0" r="6.45" fill="#d29b14" fill-opacity="0.6" stroke="#d29b14" stroke-opacity="0.6" stroke-width="1.2"/>
<circle cx="278.7" cy="682.0" r="6.45" fill="#d29b14" fill-opacity="0.6" stroke="#d29b14" stroke-opacity="0.6" stroke-width="1.2"/>
<circle cx="287.8" cy="691.7" r="6.45" fill="#d29b14" fill-opacity="0.6" stroke="#d29b14" stroke-opacity="0.6" stroke-width="1.2"/>
<circle cx="292.3" cy="699.3" r="6.45" fill="#d29b14" fill-opacity="0.6" stroke="#d29b14" stroke-opacity="0.6" stroke-width="1.2"/>
<circle cx="298.4" cy="687.2" r="6.45" fill="#d29b14" fill-opacity="0.6" stroke="#d29b14" stroke-opacity="0.6" stroke-width="1.2"/>
<circle cx="260.5" cy="709.9" r="6.45" fill="#d29b14" fill-opacity="0.6" stroke="#d29b14" stroke-opacity="0.6" stroke-width="1.2"/>
<circle cx="266.5" cy="726.6" r="6.45" fill="#d29b14" fill-opacity="0.6" stroke="#d29b14" stroke-opacity="0.6" stroke-width="1.2"/>
<circle cx="220.4" cy="728.2" r="6.45" fill="#d29b14" fill-opacity="0.6" stroke="#d29b14" stroke-opacity="0.6" stroke-width="1.2"/>
<circle cx="287.8" cy="735.7" r="6.45" fill="#d29b14" fill-opacity="0.6" stroke="#d29b14" stroke-opacity="0.6" stroke-width="1.2"/>
<circle cx="296.9" cy="729.7" r="6.45" fill="#d29b14" fill-opacity="0.6" stroke="#d29b14" stroke-opacity="0.6" stroke-width="1.2"/>
<circle cx="261.4" cy="749.4" r="6.45" fill="#d29b14" fill-opacity="0.6" stroke="#d29b14" stroke-opacity="0.6" stroke-width="1.2"/>
<circle cx="262.9" cy="757.6" r="6.45" fill="#d29b14" fill-opacity="0.6" stroke="#d29b14" stroke-opacity="0.6" stroke-width="1.2"/>
<circle cx="284.8" cy="749.4" r="6.45" fill="#d29b14" fill-opacity="0.6" stroke="#d29b14" stroke-opacity="0.6" stroke-width="1.2"/>
<circle cx="290.8" cy="750.9" r="6.45" fill="#d29b14" fill-opacity="0.6" stroke="#d29b14" stroke-opacity="0.6" stroke-width="1.2"/>
<circle cx="310.6" cy="740.3" r="6.45" fill="#d29b14" fill-opacity="0.6" stroke="#d29b14" stroke-opacity="0.6" stroke-width="1.2"/>
<circle cx="454.8" cy="679.6" r="6.45" fill="#d29b14" fill-opacity="0.6" stroke="#d29b14" stroke-opacity="0.6" stroke-width="1.2"/>
<circle cx="459.4" cy="682.6" r="6.45" fill="#d29b14" fill-opacity="0.6" stroke="#d29b14" stroke-opacity="0.6" stroke-width="1.2"/>
<circle cx="409.3" cy="691.7" r="6.45" fill="#d29b14" fill-opacity="0.6" stroke="#d29b14" stroke-opacity="0.6" stroke-width="1.2"/>
<circle cx="416.8" cy="691.7" r="6.45" fill="#d29b14" fill-opacity="0.6" stroke="#d29b14" stroke-opacity="0.6" stroke-width="1.2"/>
<circle cx="419.9" cy="703.9" r="6.45" fill="#d29b14" fill-opacity="0.6" stroke="#d29b14" stroke-opacity="0.6" stroke-width="1.2"/>
<circle cx="410.8" cy="714.5" r="6.45" fill="#d29b14" fill-opacity="0.6" stroke="#d29b14" stroke-opacity="0.6" stroke-width="1.2"/>
<circle cx="394.1" cy="717.5" r="6.45" fill="#d29b14" fill-opacity="0.6" stroke="#d29b14" stroke-opacity="0.6" stroke-width="1.2"/>
<circle cx="403.2" cy="732.7" r="6.45" fill="#d29b14" fill-opacity="0.6" stroke="#d29b14" stroke-opacity="0.6" stroke-width="1.2"/>
<circle cx="422.9" cy="735.7" r="6.45" fill="#d29b14" fill-opacity="0.6" stroke="#d29b14" stroke-opacity="0.6" stroke-width="1.2"/>
<circle cx="431.4" cy="738.2" r="6.45" fill="#d29b14" fill-opacity="0.6" stroke="#d29b14" stroke-opacity="0.6" stroke-width="1.2"/>
<circle cx="392.6" cy="737.3" r="6.45" fill="#d29b14" fill-opacity="0.6" stroke="#d29b14" stroke-opacity="0.6" stroke-width="1.2"/>
<circle cx="398.6" cy="738.2" r="6.45" fill="#d29b14" fill-opacity="0.6" stroke="#d29b14" stroke-opacity="0.6" stroke-width="1.2"/>
<circle cx="403.2" cy="744.9" r="6.45" fill="#d29b14" fill-opacity="0.6" stroke="#d29b14" stroke-opacity="0.6" stroke-width="1.2"/>
<circle cx="411.7" cy="751.5" r="6.45" fill="#d29b14" fill-opacity="0.6" stroke="#d29b14" stroke-opacity="0.6" stroke-width="1.2"/>
<circle cx="426.0" cy="763.7" r="6.45" fill="#d29b14" fill-opacity="0.6" stroke="#d29b14" stroke-opacity="0.6" stroke-width="1.2"/>
<circle cx="378.9" cy="766.1" r="6.45" fill="#d29b14" fill-opacity="0.6" stroke="#d29b14" stroke-opacity="0.6" stroke-width="1.2"/>
<circle cx="362.2" cy="766.1" r="6.45" fill="#d29b14" fill-opacity="0.6" stroke="#d29b14" stroke-opacity="0.6" stroke-width="1.2"/>
<circle cx="366.7" cy="764.6" r="6.45" fill="#d29b14" fill-opacity="0.6" stroke="#d29b14" stroke-opacity="0.6" stroke-width="1.2"/>
<circle cx="355.5" cy="775.2" r="6.45" fill="#d29b14" fill-opacity="0.6" stroke="#d29b14" stroke-opacity="0.6" stroke-width="1.2"/>
<circle cx="324.2" cy="758.5" r="6.45" fill="#d29b14" fill-opacity="0.6" stroke="#d29b14" stroke-opacity="0.6" stroke-width="1.2"/>
<circle cx="334.9" cy="750.9" r="6.45" fill="#d29b14" fill-opacity="0.6" stroke="#d29b14" stroke-opacity="0.6" stroke-width="1.2"/>
<circle cx="329.4" cy="747.3" r="6.45" fill="#d29b14" fill-opacity="0.6" stroke="#d29b14" stroke-opacity="0.6" stroke-width="1.2"/>
<circle cx="344.0" cy="747.9" r="6.45" fill="#d29b14" fill-opacity="0.6" stroke="#d29b14" stroke-opacity="0.6" stroke-width="1.2"/>
<circle cx="302.1" cy="766.1" r="6.45" fill="#d29b14" fill-opacity="0.6" stroke="#d29b14" stroke-opacity="0.6" stroke-width="1.2"/>
<circle cx="289.9" cy="770.7" r="6.45" fill="#d29b14" fill-opacity="0.6" stroke="#d29b14" stroke-opacity="0.6" stroke-width="1.2"/>
<circle cx="286.3" cy="778.3" r="6.45" fill="#d29b14" fill-opacity="0.6" stroke="#d29b14" stroke-opacity="0.6" stroke-width="1.2"/>
<circle cx="312.1" cy="780.7" r="6.45" fill="#d29b14" fill-opacity="0.6" stroke="#d29b14" stroke-opacity="0.6" stroke-width="1.2"/>
<circle cx="318.2" cy="779.8" r="6.45" fill="#d29b14" fill-opacity="0.6" stroke="#d29b14" stroke-opacity="0.6" stroke-width="1.2"/>
<circle cx="332.7" cy="779.8" r="6.45" fill="#d29b14" fill-opacity="0.6" stroke="#d29b14" stroke-opacity="0.6" stroke-width="1.2"/>
<circle cx="343.1" cy="790.4" r="6.45" fill="#d29b14" fill-opacity="0.6" stroke="#d29b14" stroke-opacity="0.6" stroke-width="1.2"/>
<circle cx="365.2" cy="795.9" r="6.45" fill="#d29b14" fill-opacity="0.6" stroke="#d29b14" stroke-opacity="0.6" stroke-width="1.2"/>
<circle cx="253.5" cy="784.3" r="6.45" fill="#d29b14" fill-opacity="0.6" stroke="#d29b14" stroke-opacity="0.6" stroke-width="1.2"/>
<circle cx="287.8" cy="796.5" r="6.45" fill="#d29b14" fill-opacity="0.6" stroke="#d29b14" stroke-opacity="0.6" stroke-width="1.2"/>
<circle cx="318.2" cy="800.4" r="6.45" fill="#d29b14" fill-opacity="0.6" stroke="#d29b14" stroke-opacity="0.6" stroke-width="1.2"/>
<circle cx="297.8" cy="808.0" r="6.45" fill="#d29b14" fill-opacity="0.6" stroke="#d29b14" stroke-opacity="0.6" stroke-width="1.2"/>
<circle cx="352.2" cy="833.5" r="6.45" fill="#d29b14" fill-opacity="0.6" stroke="#d29b14" stroke-opacity="0.6" stroke-width="1.2"/>
<circle cx="380.4" cy="738.8" r="6.45" fill="#d29b14" fill-opacity="0.6" stroke="#d29b14" stroke-opacity="0.6" stroke-width="1.2"/>
<circle cx="365.2" cy="757.0" r="6.45" fill="#d29b14" fill-opacity="0.6" stroke="#d29b14" stroke-opacity="0.6" stroke-width="1.2"/>
<path d="M309.80 667.00L318.50 682.60L301.10 682.60Z" fill="#2f4f4f" fill-opacity="0.6"/>
<path d="M336.00 662.80L344.70 678.40L327.30 678.40Z" fill="#2f4f4f" fill-opacity="0.6"/>
<path d="M348.70 665.60L357.40 681.20L340.00 681.20Z" fill="#2f4f4f" fill-opacity="0.6"/>
<path d="M340.90 672.00L349.60 687.60L332.20 687.60Z" fill="#2f4f4f" fill-opacity="0.6"/>
<path d="M328.20 672.00L336.90 687.60L319.50 687.60Z" fill="#2f4f4f" fill-opacity="0.6"/>
<path d="M321.10 681.90L329.80 697.50L312.40 697.50Z" fill="#2f4f4f" fill-opacity="0.6"/>
<path d="M356.50 676.30L365.20 691.90L347.80 691.90Z" fill="#2f4f4f" fill-opacity="0.6"/>
<path d="M377.80 686.20L386.50 701.80L369.10 701.80Z" fill="#2f4f4f" fill-opacity="0.6"/>
<path d="M370.70 690.40L379.40 706.00L362.00 706.00Z" fill="#2f4f4f" fill-opacity="0.6"/>
<path d="M383.40 690.40L392.10 706.00L374.70 706.00Z" fill="#2f4f4f" fill-opacity="0.6"/>
<path d="M295.60 695.40L304.30 711.00L286.90 711.00Z" fill="#2f4f4f" fill-opacity="0.6"/>
<path d="M311.20 697.50L319.90 713.10L302.50 713.10Z" fill="#2f4f4f" fill-opacity="0.6"/>
<path d="M329.60 694.70L338.30 710.30L320.90 710.30Z" fill="#2f4f4f" fill-opacity="0.6"/>
<path d="M338.10 690.40L346.80 706.00L329.40 706.00Z" fill="#2f4f4f" fill-opacity="0.6"/>
<path d="M343.80 696.10L352.50 711.70L335.10 711.70Z" fill="#2f4f4f" fill-opacity="0.6"/>
<path d="M350.90 698.90L359.60 714.50L342.20 714.50Z" fill="#2f4f4f" fill-opacity="0.6"/>
<path d="M399.00 693.30L407.70 708.90L390.30 708.90Z" fill="#2f4f4f" fill-opacity="0.6"/>
<path d="M393.40 698.90L402.10 714.50L384.70 714.50Z" fill="#2f4f4f" fill-opacity="0.6"/>
<path d="M304.10 704.60L312.80 720.20L295.40 720.20Z" fill="#2f4f4f" fill-opacity="0.6"/>
<path d="M321.10 704.60L329.80 720.20L312.40 720.20Z" fill="#2f4f4f" fill-opacity="0.6"/>
<path d="M335.30 706.00L344.00 721.60L326.60 721.60Z" fill="#2f4f4f" fill-opacity="0.6"/>
<path d="M346.60 706.00L355.30 721.60L337.90 721.60Z" fill="#2f4f4f" fill-opacity="0.6"/>
<path d="M353.70 708.80L362.40 724.40L345.00 724.40Z" fill="#2f4f4f" fill-opacity="0.6"/>
<path d="M360.80 706.00L369.50 721.60L352.10 721.60Z" fill="#2f4f4f" fill-opacity="0.6"/>
<path d="M369.30 710.30L378.00 725.90L360.60 725.90Z" fill="#2f4f4f" fill-opacity="0.6"/>
<path d="M376.40 710.30L385.10 725.90L367.70 725.90Z" fill="#2f4f4f" fill-opacity="0.6"/>
<path d="M325.30 721.60L334.00 737.20L316.60 737.20Z" fill="#2f4f4f" fill-opacity="0.6"/>
<path d="M333.80 723.00L342.50 738.60L325.10 738.60Z" fill="#2f4f4f" fill-opacity="0.6"/>
<path d="M343.80 721.60L352.50 737.20L335.10 737.20Z" fill="#2f4f4f" fill-opacity="0.6"/>
<path d="M365.00 724.40L373.70 740.00L356.30 740.00Z" fill="#2f4f4f" fill-opacity="0.6"/>
<path d="M376.40 725.80L385.10 741.40L367.70 741.40Z" fill="#2f4f4f" fill-opacity="0.6"/>
<path d="M315.40 730.10L324.10 745.70L306.70 745.70Z" fill="#2f4f4f" fill-opacity="0.6"/>
<path d="M345.20 734.30L353.90 749.90L336.50 749.90Z" fill="#2f4f4f" fill-opacity="0.6"/>
<path d="M360.80 738.60L369.50 754.20L352.10 754.20Z" fill="#2f4f4f" fill-opacity="0.6"/>
<path d="M366.40 742.90L375.10 758.50L357.70 758.50Z" fill="#2f4f4f" fill-opacity="0.6"/>
<path d="M333.80 685.70L342.50 701.30L325.10 701.30Z" fill="#2f4f4f" fill-opacity="0.6"/>
<path d="M326.80 699.90L335.50 715.50L318.10 715.50Z" fill="#2f4f4f" fill-opacity="0.6"/>
<path d="M339.50 702.80L348.20 718.40L330.80 718.40Z" fill="#2f4f4f" fill-opacity="0.6"/>
<path d="M348.00 714.10L356.70 729.70L339.30 729.70Z" fill="#2f4f4f" fill-opacity="0.6"/>
<path d="M356.50 716.90L365.20 732.50L347.80 732.50Z" fill="#2f4f4f" fill-opacity="0.6"/>
<path d="M331.00 711.30L339.70 726.90L322.30 726.90Z" fill="#2f4f4f" fill-opacity="0.6"/>
<path d="M318.30 692.80L327.00 708.40L309.60 708.40Z" fill="#2f4f4f" fill-opacity="0.6"/>
<path d="M365.00 699.90L373.70 715.50L356.30 715.50Z" fill="#2f4f4f" fill-opacity="0.6"/>
<path d="M353.70 685.70L362.40 701.30L345.00 701.30Z" fill="#2f4f4f" fill-opacity="0.6"/>
<path d="M343.80 678.70L352.50 694.30L335.10 694.30Z" fill="#2f4f4f" fill-opacity="0.6"/>
<path d="M332.40 678.70L341.10 694.30L323.70 694.30Z" fill="#2f4f4f" fill-opacity="0.6"/>
<path d="M316.80 711.30L325.50 726.90L308.10 726.90Z" fill="#2f4f4f" fill-opacity="0.6"/>
<path d="M359.40 724.00L368.10 739.60L350.70 739.60Z" fill="#2f4f4f" fill-opacity="0.6"/>
<path d="M372.10 698.50L380.80 714.10L363.40 714.10Z" fill="#2f4f4f" fill-opacity="0.6"/>
<path d="M326.90 681.20L335.60 696.80L318.20 696.80Z" fill="#2f4f4f" fill-opacity="0.6"/>
<path d="M336.60 673.90L345.30 689.50L327.90 689.50Z" fill="#2f4f4f" fill-opacity="0.6"/>
<path d="M346.30 678.80L355.00 694.40L337.60 694.40Z" fill="#2f4f4f" fill-opacity="0.6"/>
<path d="M331.70 698.20L340.40 713.80L323.00 713.80Z" fill="#2f4f4f" fill-opacity="0.6"/>
<path d="M341.50 693.40L350.20 709.00L332.80 709.00Z" fill="#2f4f4f" fill-opacity="0.6"/>
<path d="M351.20 703.10L359.90 718.70L342.50 718.70Z" fill="#2f4f4f" fill-opacity="0.6"/>
<path d="M336.60 712.80L345.30 728.40L327.90 728.40Z" fill="#2f4f4f" fill-opacity="0.6"/>
<path d="M356.00 717.60L364.70 733.20L347.30 733.20Z" fill="#2f4f4f" fill-opacity="0.6"/>
<path d="M365.70 710.40L374.40 726.00L357.00 726.00Z" fill="#2f4f4f" fill-opacity="0.6"/>
<path d="M370.60 727.40L379.30 743.00L361.90 743.00Z" fill="#2f4f4f" fill-opacity="0.6"/>
<path d="M326.90 722.50L335.60 738.10L318.20 738.10Z" fill="#2f4f4f" fill-opacity="0.6"/>
<path d="M317.20 703.10L325.90 718.70L308.50 718.70Z" fill="#2f4f4f" fill-opacity="0.6"/>
<path d="M312.30 688.50L321.00 704.10L303.60 704.10Z" fill="#2f4f4f" fill-opacity="0.6"/>
<path d="M365.70 686.10L374.40 701.70L357.00 701.70Z" fill="#2f4f4f" fill-opacity="0.6"/>
<path d="M380.30 693.40L389.00 709.00L371.60 709.00Z" fill="#2f4f4f" fill-opacity="0.6"/>
<path d="M346.30 722.50L355.00 738.10L337.60 738.10Z" fill="#2f4f4f" fill-opacity="0.6"/>
<path d="M351.20 737.10L359.90 752.70L342.50 752.70Z" fill="#2f4f4f" fill-opacity="0.6"/>
<path d="M322.00 717.60L330.70 733.20L313.30 733.20Z" fill="#2f4f4f" fill-opacity="0.6"/>
<path d="M305.00 703.10L313.70 718.70L296.30 718.70Z" fill="#2f4f4f" fill-opacity="0.6"/>
<path d="M343.60 538.80L352.30 554.40L334.90 554.40Z" fill="#2f4f4f" fill-opacity="0.6"/>
<path d="M354.60 621.40L363.30 637.00L345.90 637.00Z" fill="#2f4f4f" fill-opacity="0.6"/>
<path d="M335.50 630.50L344.20 646.10L326.80 646.10Z" fill="#2f4f4f" fill-opacity="0.6"/>
<path d="M303.90 639.60L312.60 655.20L295.20 655.20Z" fill="#2f4f4f" fill-opacity="0.6"/>
<path d="M380.40 628.10L389.10 643.70L371.70 643.70Z" fill="#2f4f4f" fill-opacity="0.6"/>
<path d="M369.80 641.10L378.50 656.70L361.10 656.70Z" fill="#2f4f4f" fill-opacity="0.6"/>
<path d="M373.40 644.10L382.10 659.70L364.70 659.70Z" fill="#2f4f4f" fill-opacity="0.6"/>
<path d="M434.50 673.00L443.20 688.60L425.80 688.60Z" fill="#2f4f4f" fill-opacity="0.6"/>
<path d="M274.70 684.50L283.40 700.10L266.00 700.10Z" fill="#2f4f4f" fill-opacity="0.6"/>
<path d="M271.10 698.80L279.80 714.40L262.40 714.40Z" fill="#2f4f4f" fill-opacity="0.6"/>
<path d="M227.10 715.50L235.80 731.10L218.40 731.10Z" fill="#2f4f4f" fill-opacity="0.6"/>
<path d="M270.20 706.40L278.90 722.00L261.50 722.00Z" fill="#2f4f4f" fill-opacity="0.6"/>
<path d="M290.80 707.90L299.50 723.50L282.10 723.50Z" fill="#2f4f4f" fill-opacity="0.6"/>
<path d="M295.40 694.20L304.10 709.80L286.70 709.80Z" fill="#2f4f4f" fill-opacity="0.6"/>
<path d="M310.60 666.90L319.30 682.50L301.90 682.50Z" fill="#2f4f4f" fill-opacity="0.6"/>
<path d="M383.40 670.00L392.10 685.60L374.70 685.60Z" fill="#2f4f4f" fill-opacity="0.6"/>
<path d="M389.50 679.10L398.20 694.70L380.80 694.70Z" fill="#2f4f4f" fill-opacity="0.6"/>
<path d="M398.60 694.20L407.30 709.80L389.90 709.80Z" fill="#2f4f4f" fill-opacity="0.6"/>
<path d="M401.70 698.80L410.40 714.40L393.00 714.40Z" fill="#2f4f4f" fill-opacity="0.6"/>
<path d="M415.30 751.90L424.00 767.50L406.60 767.50Z" fill="#2f4f4f" fill-opacity="0.6"/>
<path d="M299.00 742.80L307.70 758.40L290.30 758.40Z" fill="#2f4f4f" fill-opacity="0.6"/>
<path d="M303.90 747.40L312.60 763.00L295.20 763.00Z" fill="#2f4f4f" fill-opacity="0.6"/>
<path d="M319.70 761.00L328.40 776.60L311.00 776.60Z" fill="#2f4f4f" fill-opacity="0.6"/>
<path d="M331.80 758.00L340.50 773.60L323.10 773.60Z" fill="#2f4f4f" fill-opacity="0.6"/>
<path d="M333.30 762.60L342.00 778.20L324.60 778.20Z" fill="#2f4f4f" fill-opacity="0.6"/>
<path d="M362.20 777.80L370.90 793.40L353.50 793.40Z" fill="#2f4f4f" fill-opacity="0.6"/>
<path d="M371.30 774.70L380.00 790.30L362.60 790.30Z" fill="#2f4f4f" fill-opacity="0.6"/>
<path d="M312.10 807.20L320.80 822.80L303.40 822.80Z" fill="#2f4f4f" fill-opacity="0.6"/>
<path d="M337.90 876.40L346.60 892.00L329.20 892.00Z" fill="#2f4f4f" fill-opacity="0.6"/>
<path d="M366.70 742.80L375.40 758.40L358.00 758.40Z" fill="#2f4f4f" fill-opacity="0.6"/>
<path d="M359.10 739.80L367.80 755.40L350.40 755.40Z" fill="#2f4f4f" fill-opacity="0.6"/>
<path d="M345.50 735.20L354.20 750.80L336.80 750.80Z" fill="#2f4f4f" fill-opacity="0.6"/>
<path d="M318.20 730.70L326.90 746.30L309.50 746.30Z" fill="#2f4f4f" fill-opacity="0.6"/>
<rect x="79.1" y="500.5" width="409.50" height="428.80" fill="none" stroke="#333" stroke-width="1.1"/>
<g stroke="#ebebeb" stroke-width="1.1" fill="none">
<line x1="642.60" y1="500.5" x2="642.60" y2="929.3"/>
<line x1="773.20" y1="500.5" x2="773.20" y2="929.3"/>
<line x1="903.80" y1="500.5" x2="903.80" y2="929.3"/>
<line x1="577.30" y1="500.5" x2="577.30" y2="929.3"/>
<line x1="707.90" y1="500.5" x2="707.90" y2="929.3"/>
<line x1="838.50" y1="500.5" x2="838.50" y2="929.3"/>
<line x1="969.10" y1="500.5" x2="969.10" y2="929.3"/>
<line x1="558.5" y1="547.50" x2="988.3" y2="547.50"/>
<line x1="558.5" y1="659.10" x2="988.3" y2="659.10"/>
<line x1="558.5" y1="770.70" x2="988.3" y2="770.70"/>
<line x1="558.5" y1="882.30" x2="988.3" y2="882.30"/>
<line x1="558.5" y1="603.30" x2="988.3" y2="603.30"/>
<line x1="558.5" y1="714.90" x2="988.3" y2="714.90"/>
<line x1="558.5" y1="826.50" x2="988.3" y2="826.50"/>
</g>
<g stroke="#333" stroke-width="1.1">
<line x1="577.30" y1="929.3" x2="577.30" y2="933.00"/>
<line x1="707.90" y1="929.3" x2="707.90" y2="933.00"/>
<line x1="838.50" y1="929.3" x2="838.50" y2="933.00"/>
<line x1="969.10" y1="929.3" x2="969.10" y2="933.00"/>
<line x1="554.80" y1="603.30" x2="558.5" y2="603.30"/>
<line x1="554.80" y1="714.90" x2="558.5" y2="714.90"/>
<line x1="554.80" y1="826.50" x2="558.5" y2="826.50"/>
</g>
<g font-family='"Liberation Sans", sans-serif' font-size="25.2" fill="#4d4d4d">
<text x="577.30" y="953.50" text-anchor="middle">-20</text>
<text x="707.90" y="953.50" text-anchor="middle">-10</text>
<text x="838.50" y="953.50" text-anchor="middle">0</text>
<text x="969.10" y="953.50" text-anchor="middle">10</text>
<text x="551.60" y="612.10" text-anchor="end">4</text>
<text x="551.60" y="723.70" text-anchor="end">0</text>
<text x="551.60" y="835.30" text-anchor="end">-4</text>
</g>
<text x="773.40" y="981.5" text-anchor="middle" font-family='"Liberation Sans", sans-serif' font-size="27.5" fill="#000">Difference in Adjusted TEE</text>
<text transform="translate(521.0,714.90) rotate(-90)" x="0" y="0" text-anchor="middle" font-family='"Liberation Sans", sans-serif' font-size="27.5" fill="#000">Change in body fat (%/week)</text>
<text x="503.0" y="524.5" font-family='"Liberation Sans", sans-serif' font-size="29" font-weight="bold" fill="#000">d</text>
<circle cx="801.3" cy="656.8" r="6.45" fill="#d29b14" fill-opacity="0.6" stroke="#d29b14" stroke-opacity="0.6" stroke-width="1.2"/>
<circle cx="791.3" cy="666.8" r="6.45" fill="#d29b14" fill-opacity="0.6" stroke="#d29b14" stroke-opacity="0.6" stroke-width="1.2"/>
<circle cx="808.3" cy="679.5" r="6.45" fill="#d29b14" fill-opacity="0.6" stroke="#d29b14" stroke-opacity="0.6" stroke-width="1.2"/>
<circle cx="799.8" cy="680.9" r="6.45" fill="#d29b14" fill-opacity="0.6" stroke="#d29b14" stroke-opacity="0.6" stroke-width="1.2"/>
<circle cx="789.9" cy="685.2" r="6.45" fill="#d29b14" fill-opacity="0.6" stroke="#d29b14" stroke-opacity="0.6" stroke-width="1.2"/>
<circle cx="782.8" cy="676.7" r="6.45" fill="#d29b14" fill-opacity="0.6" stroke="#d29b14" stroke-opacity="0.6" stroke-width="1.2"/>
<circle cx="828.2" cy="659.7" r="6.45" fill="#d29b14" fill-opacity="0.6" stroke="#d29b14" stroke-opacity="0.6" stroke-width="1.2"/>
<circle cx="821.1" cy="648.3" r="6.45" fill="#d29b14" fill-opacity="0.6" stroke="#d29b14" stroke-opacity="0.6" stroke-width="1.2"/>
<circle cx="852.3" cy="675.3" r="6.45" fill="#d29b14" fill-opacity="0.6" stroke="#d29b14" stroke-opacity="0.6" stroke-width="1.2"/>
<circle cx="857.9" cy="682.3" r="6.45" fill="#d29b14" fill-opacity="0.6" stroke="#d29b14" stroke-opacity="0.6" stroke-width="1.2"/>
<circle cx="843.8" cy="676.7" r="6.45" fill="#d29b14" fill-opacity="0.6" stroke="#d29b14" stroke-opacity="0.6" stroke-width="1.2"/>
<circle cx="872.1" cy="672.4" r="6.45" fill="#d29b14" fill-opacity="0.6" stroke="#d29b14" stroke-opacity="0.6" stroke-width="1.2"/>
<circle cx="867.9" cy="666.8" r="6.45" fill="#d29b14" fill-opacity="0.6" stroke="#d29b14" stroke-opacity="0.6" stroke-width="1.2"/>
<circle cx="893.4" cy="706.4" r="6.45" fill="#d29b14" fill-opacity="0.6" stroke="#d29b14" stroke-opacity="0.6" stroke-width="1.2"/>
<circle cx="784.3" cy="695.1" r="6.45" fill="#d29b14" fill-opacity="0.6" stroke="#d29b14" stroke-opacity="0.6" stroke-width="1.2"/>
<circle cx="792.8" cy="696.5" r="6.45" fill="#d29b14" fill-opacity="0.6" stroke="#d29b14" stroke-opacity="0.6" stroke-width="1.2"/>
<circle cx="808.3" cy="695.1" r="6.45" fill="#d29b14" fill-opacity="0.6" stroke="#d29b14" stroke-opacity="0.6" stroke-width="1.2"/>
<circle cx="797.0" cy="719.2" r="6.45" fill="#d29b14" fill-opacity="0.6" stroke="#d29b14" stroke-opacity="0.6" stroke-width="1.2"/>
<circle cx="805.5" cy="724.9" r="6.45" fill="#d29b14" fill-opacity="0.6" stroke="#d29b14" stroke-opacity="0.6" stroke-width="1.2"/>
<circle cx="789.9" cy="717.8" r="6.45" fill="#d29b14" fill-opacity="0.6" stroke="#d29b14" stroke-opacity="0.6" stroke-width="1.2"/>
<circle cx="840.9" cy="712.1" r="6.45" fill="#d29b14" fill-opacity="0.6" stroke="#d29b14" stroke-opacity="0.6" stroke-width="1.2"/>
<circle cx="850.9" cy="710.7" r="6.45" fill="#d29b14" fill-opacity="0.6" stroke="#d29b14" stroke-opacity="0.6" stroke-width="1.2"/>
<circle cx="859.4" cy="719.2" r="6.45" fill="#d29b14" fill-opacity="0.6" stroke="#d29b14" stroke-opacity="0.6" stroke-width="1.2"/>
<circle cx="872.1" cy="719.2" r="6.45" fill="#d29b14" fill-opacity="0.6" stroke="#d29b14" stroke-opacity="0.6" stroke-width="1.2"/>
<circle cx="899.0" cy="716.4" r="6.45" fill="#d29b14" fill-opacity="0.6" stroke="#d29b14" stroke-opacity="0.6" stroke-width="1.2"/>
<circle cx="805.5" cy="666.8" r="6.45" fill="#d29b14" fill-opacity="0.6" stroke="#d29b14" stroke-opacity="0.6" stroke-width="1.2"/>
<circle cx="812.6" cy="673.8" r="6.45" fill="#d29b14" fill-opacity="0.6" stroke="#d29b14" stroke-opacity="0.6" stroke-width="1.2"/>
<circle cx="797.0" cy="673.8" r="6.45" fill="#d29b14" fill-opacity="0.6" stroke="#d29b14" stroke-opacity="0.6" stroke-width="1.2"/>
<circle cx="848.0" cy="669.6" r="6.45" fill="#d29b14" fill-opacity="0.6" stroke="#d29b14" stroke-opacity="0.6" stroke-width="1.2"/>
<circle cx="853.7" cy="680.9" r="6.45" fill="#d29b14" fill-opacity="0.6" stroke="#d29b14" stroke-opacity="0.6" stroke-width="1.2"/>
<circle cx="836.7" cy="686.6" r="6.45" fill="#d29b14" fill-opacity="0.6" stroke="#d29b14" stroke-opacity="0.6" stroke-width="1.2"/>
<circle cx="833.8" cy="696.5" r="6.45" fill="#d29b14" fill-opacity="0.6" stroke="#d29b14" stroke-opacity="0.6" stroke-width="1.2"/>
<circle cx="839.5" cy="702.2" r="6.45" fill="#d29b14" fill-opacity="0.6" stroke="#d29b14" stroke-opacity="0.6" stroke-width="1.2"/>
<circle cx="808.3" cy="705.0" r="6.45" fill="#d29b14" fill-opacity="0.6" stroke="#d29b14" stroke-opacity="0.6" stroke-width="1.2"/>
<circle cx="801.3" cy="712.1" r="6.45" fill="#d29b14" fill-opacity="0.6" stroke="#d29b14" stroke-opacity="0.6" stroke-width="1.2"/>
<circle cx="815.4" cy="707.9" r="6.45" fill="#d29b14" fill-opacity="0.6" stroke="#d29b14" stroke-opacity="0.6" stroke-width="1.2"/>
<circle cx="843.8" cy="719.2" r="6.45" fill="#d29b14" fill-opacity="0.6" stroke="#d29b14" stroke-opacity="0.6" stroke-width="1.2"/>
<circle cx="853.7" cy="719.2" r="6.45" fill="#d29b14" fill-opacity="0.6" stroke="#d29b14" stroke-opacity="0.6" stroke-width="1.2"/>
<circle cx="826.8" cy="722.0" r="6.45" fill="#d29b14" fill-opacity="0.6" stroke="#d29b14" stroke-opacity="0.6" stroke-width="1.2"/>
<circle cx="862.2" cy="690.9" r="6.45" fill="#d29b14" fill-opacity="0.6" stroke="#d29b14" stroke-opacity="0.6" stroke-width="1.2"/>
<circle cx="870.7" cy="690.9" r="6.45" fill="#d29b14" fill-opacity="0.6" stroke="#d29b14" stroke-opacity="0.6" stroke-width="1.2"/>
<circle cx="879.2" cy="699.4" r="6.45" fill="#d29b14" fill-opacity="0.6" stroke="#d29b14" stroke-opacity="0.6" stroke-width="1.2"/>
<circle cx="784.3" cy="705.0" r="6.45" fill="#d29b14" fill-opacity="0.6" stroke="#d29b14" stroke-opacity="0.6" stroke-width="1.2"/>
<circle cx="794.2" cy="707.9" r="6.45" fill="#d29b14" fill-opacity="0.6" stroke="#d29b14" stroke-opacity="0.6" stroke-width="1.2"/>
<circle cx="819.7" cy="673.8" r="6.45" fill="#d29b14" fill-opacity="0.6" stroke="#d29b14" stroke-opacity="0.6" stroke-width="1.2"/>
<circle cx="833.8" cy="666.8" r="6.45" fill="#d29b14" fill-opacity="0.6" stroke="#d29b14" stroke-opacity="0.6" stroke-width="1.2"/>
<circle cx="865.0" cy="648.3" r="6.45" fill="#d29b14" fill-opacity="0.6" stroke="#d29b14" stroke-opacity="0.6" stroke-width="1.2"/>
<circle cx="859.4" cy="655.4" r="6.45" fill="#d29b14" fill-opacity="0.6" stroke="#d29b14" stroke-opacity="0.6" stroke-width="1.2"/>
<circle cx="778.9" cy="666.8" r="6.45" fill="#d29b14" fill-opacity="0.6" stroke="#d29b14" stroke-opacity="0.6" stroke-width="1.2"/>
<circle cx="789.4" cy="679.9" r="6.45" fill="#d29b14" fill-opacity="0.6" stroke="#d29b14" stroke-opacity="0.6" stroke-width="1.2"/>
<circle cx="799.9" cy="658.9" r="6.45" fill="#d29b14" fill-opacity="0.6" stroke="#d29b14" stroke-opacity="0.6" stroke-width="1.2"/>
<circle cx="810.4" cy="693.0" r="6.45" fill="#d29b14" fill-opacity="0.6" stroke="#d29b14" stroke-opacity="0.6" stroke-width="1.2"/>
<circle cx="813.0" cy="716.7" r="6.45" fill="#d29b14" fill-opacity="0.6" stroke="#d29b14" stroke-opacity="0.6" stroke-width="1.2"/>
<circle cx="847.2" cy="666.8" r="6.45" fill="#d29b14" fill-opacity="0.6" stroke="#d29b14" stroke-opacity="0.6" stroke-width="1.2"/>
<circle cx="857.7" cy="679.9" r="6.45" fill="#d29b14" fill-opacity="0.6" stroke="#d29b14" stroke-opacity="0.6" stroke-width="1.2"/>
<circle cx="863.0" cy="695.7" r="6.45" fill="#d29b14" fill-opacity="0.6" stroke="#d29b14" stroke-opacity="0.6" stroke-width="1.2"/>
<circle cx="878.8" cy="706.2" r="6.45" fill="#d29b14" fill-opacity="0.6" stroke="#d29b14" stroke-opacity="0.6" stroke-width="1.2"/>
<circle cx="847.2" cy="706.2" r="6.45" fill="#d29b14" fill-opacity="0.6" stroke="#d29b14" stroke-opacity="0.6" stroke-width="1.2"/>
<circle cx="831.4" cy="679.9" r="6.45" fill="#d29b14" fill-opacity="0.6" stroke="#d29b14" stroke-opacity="0.6" stroke-width="1.2"/>
<circle cx="823.6" cy="658.9" r="6.45" fill="#d29b14" fill-opacity="0.6" stroke="#d29b14" stroke-opacity="0.6" stroke-width="1.2"/>
<circle cx="836.7" cy="645.7" r="6.45" fill="#d29b14" fill-opacity="0.6" stroke="#d29b14" stroke-opacity="0.6" stroke-width="1.2"/>
<circle cx="794.6" cy="700.9" r="6.45" fill="#d29b14" fill-opacity="0.6" stroke="#d29b14" stroke-opacity="0.6" stroke-width="1.2"/>
<circle cx="778.9" cy="706.2" r="6.45" fill="#d29b14" fill-opacity="0.6" stroke="#d29b14" stroke-opacity="0.6" stroke-width="1.2"/>
<circle cx="870.9" cy="658.9" r="6.45" fill="#d29b14" fill-opacity="0.6" stroke="#d29b14" stroke-opacity="0.6" stroke-width="1.2"/>
<circle cx="810.0" cy="670.0" r="6.45" fill="#d29b14" fill-opacity="0.6" stroke="#d29b14" stroke-opacity="0.6" stroke-width="1.2"/>
<circle cx="845.0" cy="665.0" r="6.45" fill="#d29b14" fill-opacity="0.6" stroke="#d29b14" stroke-opacity="0.6" stroke-width="1.2"/>
<circle cx="830.0" cy="715.0" r="6.45" fill="#d29b14" fill-opacity="0.6" stroke="#d29b14" stroke-opacity="0.6" stroke-width="1.2"/>
<circle cx="860.0" cy="700.0" r="6.45" fill="#d29b14" fill-opacity="0.6" stroke="#d29b14" stroke-opacity="0.6" stroke-width="1.2"/>
<circle cx="800.0" cy="690.0" r="6.45" fill="#d29b14" fill-opacity="0.6" stroke="#d29b14" stroke-opacity="0.6" stroke-width="1.2"/>
<circle cx="586.9" cy="718.4" r="6.45" fill="#d29b14" fill-opacity="0.6" stroke="#d29b14" stroke-opacity="0.6" stroke-width="1.2"/>
<circle cx="894.8" cy="897.7" r="6.45" fill="#d29b14" fill-opacity="0.6" stroke="#d29b14" stroke-opacity="0.6" stroke-width="1.2"/>
<circle cx="963.8" cy="711.9" r="6.45" fill="#d29b14" fill-opacity="0.6" stroke="#d29b14" stroke-opacity="0.6" stroke-width="1.2"/>
<circle cx="783.7" cy="543.2" r="6.45" fill="#d29b14" fill-opacity="0.6" stroke="#d29b14" stroke-opacity="0.6" stroke-width="1.2"/>
<circle cx="787.6" cy="592.4" r="6.45" fill="#d29b14" fill-opacity="0.6" stroke="#d29b14" stroke-opacity="0.6" stroke-width="1.2"/>
<circle cx="807.9" cy="616.1" r="6.45" fill="#d29b14" fill-opacity="0.6" stroke="#d29b14" stroke-opacity="0.6" stroke-width="1.2"/>
<circle cx="796.6" cy="626.6" r="6.45" fill="#d29b14" fill-opacity="0.6" stroke="#d29b14" stroke-opacity="0.6" stroke-width="1.2"/>
<circle cx="776.3" cy="632.6" r="6.45" fill="#d29b14" fill-opacity="0.6" stroke="#d29b14" stroke-opacity="0.6" stroke-width="1.2"/>
<circle cx="749.5" cy="637.1" r="6.45" fill="#d29b14" fill-opacity="0.6" stroke="#d29b14" stroke-opacity="0.6" stroke-width="1.2"/>
<circle cx="720.5" cy="652.4" r="6.45" fill="#d29b14" fill-opacity="0.6" stroke="#d29b14" stroke-opacity="0.6" stroke-width="1.2"/>
<circle cx="809.2" cy="637.1" r="6.45" fill="#d29b14" fill-opacity="0.6" stroke="#d29b14" stroke-opacity="0.6" stroke-width="1.2"/>
<circle cx="846.6" cy="634.5" r="6.45" fill="#d29b14" fill-opacity="0.6" stroke="#d29b14" stroke-opacity="0.6" stroke-width="1.2"/>
<circle cx="875.8" cy="631.8" r="6.45" fill="#d29b14" fill-opacity="0.6" stroke="#d29b14" stroke-opacity="0.6" stroke-width="1.2"/>
<circle cx="907.9" cy="622.1" r="6.45" fill="#d29b14" fill-opacity="0.6" stroke="#d29b14" stroke-opacity="0.6" stroke-width="1.2"/>
<circle cx="888.9" cy="641.1" r="6.45" fill="#d29b14" fill-opacity="0.6" stroke="#d29b14" stroke-opacity="0.6" stroke-width="1.2"/>
<circle cx="896.8" cy="648.9" r="6.45" fill="#d29b14" fill-opacity="0.6" stroke="#d29b14" stroke-opacity="0.6" stroke-width="1.2"/>
<circle cx="890.0" cy="653.7" r="6.45" fill="#d29b14" fill-opacity="0.6" stroke="#d29b14" stroke-opacity="0.6" stroke-width="1.2"/>
<circle cx="892.1" cy="664.7" r="6.45" fill="#d29b14" fill-opacity="0.6" stroke="#d29b14" stroke-opacity="0.6" stroke-width="1.2"/>
<circle cx="905.3" cy="658.2" r="6.45" fill="#d29b14" fill-opacity="0.6" stroke="#d29b14" stroke-opacity="0.6" stroke-width="1.2"/>
<circle cx="910.5" cy="658.9" r="6.45" fill="#d29b14" fill-opacity="0.6" stroke="#d29b14" stroke-opacity="0.6" stroke-width="1.2"/>
<circle cx="921.1" cy="656.8" r="6.45" fill="#d29b14" fill-opacity="0.6" stroke="#d29b14" stroke-opacity="0.6" stroke-width="1.2"/>
<circle cx="900.0" cy="677.9" r="6.45" fill="#d29b14" fill-opacity="0.6" stroke="#d29b14" stroke-opacity="0.6" stroke-width="1.2"/>
<circle cx="902.6" cy="685.8" r="6.45" fill="#d29b14" fill-opacity="0.6" stroke="#d29b14" stroke-opacity="0.6" stroke-width="1.2"/>
<circle cx="913.2" cy="688.4" r="6.45" fill="#d29b14" fill-opacity="0.6" stroke="#d29b14" stroke-opacity="0.6" stroke-width="1.2"/>
<circle cx="922.9" cy="672.6" r="6.45" fill="#d29b14" fill-opacity="0.6" stroke="#d29b14" stroke-opacity="0.6" stroke-width="1.2"/>
<circle cx="928.4" cy="680.0" r="6.45" fill="#d29b14" fill-opacity="0.6" stroke="#d29b14" stroke-opacity="0.6" stroke-width="1.2"/>
<circle cx="956.6" cy="693.2" r="6.45" fill="#d29b14" fill-opacity="0.6" stroke="#d29b14" stroke-opacity="0.6" stroke-width="1.2"/>
<circle cx="953.9" cy="711.6" r="6.45" fill="#d29b14" fill-opacity="0.6" stroke="#d29b14" stroke-opacity="0.6" stroke-width="1.2"/>
<circle cx="916.3" cy="714.2" r="6.45" fill="#d29b14" fill-opacity="0.6" stroke="#d29b14" stroke-opacity="0.6" stroke-width="1.2"/>
<circle cx="905.3" cy="717.9" r="6.45" fill="#d29b14" fill-opacity="0.6" stroke="#d29b14" stroke-opacity="0.6" stroke-width="1.2"/>
<circle cx="741.6" cy="667.4" r="6.45" fill="#d29b14" fill-opacity="0.6" stroke="#d29b14" stroke-opacity="0.6" stroke-width="1.2"/>
<circle cx="751.3" cy="670.0" r="6.45" fill="#d29b14" fill-opacity="0.6" stroke="#d29b14" stroke-opacity="0.6" stroke-width="1.2"/>
<circle cx="767.1" cy="670.8" r="6.45" fill="#d29b14" fill-opacity="0.6" stroke="#d29b14" stroke-opacity="0.6" stroke-width="1.2"/>
<circle cx="752.6" cy="683.7" r="6.45" fill="#d29b14" fill-opacity="0.6" stroke="#d29b14" stroke-opacity="0.6" stroke-width="1.2"/>
<circle cx="749.5" cy="687.1" r="6.45" fill="#d29b14" fill-opacity="0.6" stroke="#d29b14" stroke-opacity="0.6" stroke-width="1.2"/>
<circle cx="777.6" cy="697.6" r="6.45" fill="#d29b14" fill-opacity="0.6" stroke="#d29b14" stroke-opacity="0.6" stroke-width="1.2"/>
<circle cx="706.6" cy="712.1" r="6.45" fill="#d29b14" fill-opacity="0.6" stroke="#d29b14" stroke-opacity="0.6" stroke-width="1.2"/>
<circle cx="754.7" cy="717.9" r="6.45" fill="#d29b14" fill-opacity="0.6" stroke="#d29b14" stroke-opacity="0.6" stroke-width="1.2"/>
<circle cx="775.0" cy="722.1" r="6.45" fill="#d29b14" fill-opacity="0.6" stroke="#d29b14" stroke-opacity="0.6" stroke-width="1.2"/>
<circle cx="776.3" cy="658.2" r="6.45" fill="#d29b14" fill-opacity="0.6" stroke="#d29b14" stroke-opacity="0.6" stroke-width="1.2"/>
<circle cx="784.2" cy="658.2" r="6.45" fill="#d29b14" fill-opacity="0.6" stroke="#d29b14" stroke-opacity="0.6" stroke-width="1.2"/>
<circle cx="811.8" cy="747.6" r="6.45" fill="#d29b14" fill-opacity="0.6" stroke="#d29b14" stroke-opacity="0.6" stroke-width="1.2"/>
<circle cx="839.5" cy="751.6" r="6.45" fill="#d29b14" fill-opacity="0.6" stroke="#d29b14" stroke-opacity="0.6" stroke-width="1.2"/>
<circle cx="855.3" cy="746.3" r="6.45" fill="#d29b14" fill-opacity="0.6" stroke="#d29b14" stroke-opacity="0.6" stroke-width="1.2"/>
<circle cx="880.8" cy="756.3" r="6.45" fill="#d29b14" fill-opacity="0.6" stroke="#d29b14" stroke-opacity="0.6" stroke-width="1.2"/>
<circle cx="820.5" cy="767.4" r="6.45" fill="#d29b14" fill-opacity="0.6" stroke="#d29b14" stroke-opacity="0.6" stroke-width="1.2"/>
<circle cx="810.5" cy="771.3" r="6.45" fill="#d29b14" fill-opacity="0.6" stroke="#d29b14" stroke-opacity="0.6" stroke-width="1.2"/>
<circle cx="853.9" cy="646.3" r="6.45" fill="#d29b14" fill-opacity="0.6" stroke="#d29b14" stroke-opacity="0.6" stroke-width="1.2"/>
<circle cx="861.8" cy="645.8" r="6.45" fill="#d29b14" fill-opacity="0.6" stroke="#d29b14" stroke-opacity="0.6" stroke-width="1.2"/>
<circle cx="839.5" cy="734.5" r="6.45" fill="#d29b14" fill-opacity="0.6" stroke="#d29b14" stroke-opacity="0.6" stroke-width="1.2"/>
<circle cx="855.3" cy="731.8" r="6.45" fill="#d29b14" fill-opacity="0.6" stroke="#d29b14" stroke-opacity="0.6" stroke-width="1.2"/>
<circle cx="805.3" cy="723.9" r="6.45" fill="#d29b14" fill-opacity="0.6" stroke="#d29b14" stroke-opacity="0.6" stroke-width="1.2"/>
<circle cx="884.2" cy="696.3" r="6.45" fill="#d29b14" fill-opacity="0.6" stroke="#d29b14" stroke-opacity="0.6" stroke-width="1.2"/>
<circle cx="886.8" cy="701.6" r="6.45" fill="#d29b14" fill-opacity="0.6" stroke="#d29b14" stroke-opacity="0.6" stroke-width="1.2"/>
<circle cx="875.0" cy="691.1" r="6.45" fill="#d29b14" fill-opacity="0.6" stroke="#d29b14" stroke-opacity="0.6" stroke-width="1.2"/>
<path d="M828.90 627.90L837.60 643.50L820.20 643.50Z" fill="#2f4f4f" fill-opacity="0.6"/>
<path d="M832.40 627.90L841.10 643.50L823.70 643.50Z" fill="#2f4f4f" fill-opacity="0.6"/>
<path d="M842.30 640.70L851.00 656.30L833.60 656.30Z" fill="#2f4f4f" fill-opacity="0.6"/>
<path d="M860.80 627.90L869.50 643.50L852.10 643.50Z" fill="#2f4f4f" fill-opacity="0.6"/>
<path d="M818.30 646.30L827.00 661.90L809.60 661.90Z" fill="#2f4f4f" fill-opacity="0.6"/>
<path d="M826.80 642.10L835.50 657.70L818.10 657.70Z" fill="#2f4f4f" fill-opacity="0.6"/>
<path d="M838.10 646.30L846.80 661.90L829.40 661.90Z" fill="#2f4f4f" fill-opacity="0.6"/>
<path d="M855.10 652.00L863.80 667.60L846.40 667.60Z" fill="#2f4f4f" fill-opacity="0.6"/>
<path d="M863.60 652.00L872.30 667.60L854.90 667.60Z" fill="#2f4f4f" fill-opacity="0.6"/>
<path d="M869.30 646.30L878.00 661.90L860.60 661.90Z" fill="#2f4f4f" fill-opacity="0.6"/>
<path d="M848.00 653.40L856.70 669.00L839.30 669.00Z" fill="#2f4f4f" fill-opacity="0.6"/>
<path d="M822.50 653.40L831.20 669.00L813.80 669.00Z" fill="#2f4f4f" fill-opacity="0.6"/>
<path d="M812.60 657.70L821.30 673.30L803.90 673.30Z" fill="#2f4f4f" fill-opacity="0.6"/>
<path d="M789.90 659.10L798.60 674.70L781.20 674.70Z" fill="#2f4f4f" fill-opacity="0.6"/>
<path d="M795.60 666.20L804.30 681.80L786.90 681.80Z" fill="#2f4f4f" fill-opacity="0.6"/>
<path d="M840.90 664.80L849.60 680.40L832.20 680.40Z" fill="#2f4f4f" fill-opacity="0.6"/>
<path d="M862.20 667.60L870.90 683.20L853.50 683.20Z" fill="#2f4f4f" fill-opacity="0.6"/>
<path d="M870.70 661.90L879.40 677.50L862.00 677.50Z" fill="#2f4f4f" fill-opacity="0.6"/>
<path d="M816.80 671.80L825.50 687.40L808.10 687.40Z" fill="#2f4f4f" fill-opacity="0.6"/>
<path d="M829.60 678.90L838.30 694.50L820.90 694.50Z" fill="#2f4f4f" fill-opacity="0.6"/>
<path d="M822.50 681.80L831.20 697.40L813.80 697.40Z" fill="#2f4f4f" fill-opacity="0.6"/>
<path d="M846.60 680.30L855.30 695.90L837.90 695.90Z" fill="#2f4f4f" fill-opacity="0.6"/>
<path d="M865.00 678.90L873.70 694.50L856.30 694.50Z" fill="#2f4f4f" fill-opacity="0.6"/>
<path d="M801.30 687.40L810.00 703.00L792.60 703.00Z" fill="#2f4f4f" fill-opacity="0.6"/>
<path d="M826.80 690.30L835.50 705.90L818.10 705.90Z" fill="#2f4f4f" fill-opacity="0.6"/>
<path d="M845.20 693.10L853.90 708.70L836.50 708.70Z" fill="#2f4f4f" fill-opacity="0.6"/>
<path d="M865.00 695.90L873.70 711.50L856.30 711.50Z" fill="#2f4f4f" fill-opacity="0.6"/>
<path d="M812.60 703.00L821.30 718.60L803.90 718.60Z" fill="#2f4f4f" fill-opacity="0.6"/>
<path d="M823.90 701.60L832.60 717.20L815.20 717.20Z" fill="#2f4f4f" fill-opacity="0.6"/>
<path d="M829.60 705.80L838.30 721.40L820.90 721.40Z" fill="#2f4f4f" fill-opacity="0.6"/>
<path d="M836.70 707.30L845.40 722.90L828.00 722.90Z" fill="#2f4f4f" fill-opacity="0.6"/>
<path d="M882.00 705.80L890.70 721.40L873.30 721.40Z" fill="#2f4f4f" fill-opacity="0.6"/>
<path d="M815.40 711.50L824.10 727.10L806.70 727.10Z" fill="#2f4f4f" fill-opacity="0.6"/>
<path d="M808.30 647.30L817.00 662.90L799.60 662.90Z" fill="#2f4f4f" fill-opacity="0.6"/>
<path d="M833.80 634.60L842.50 650.20L825.10 650.20Z" fill="#2f4f4f" fill-opacity="0.6"/>
<path d="M845.20 651.60L853.90 667.20L836.50 667.20Z" fill="#2f4f4f" fill-opacity="0.6"/>
<path d="M829.60 661.50L838.30 677.10L820.90 677.10Z" fill="#2f4f4f" fill-opacity="0.6"/>
<path d="M808.30 679.90L817.00 695.50L799.60 695.50Z" fill="#2f4f4f" fill-opacity="0.6"/>
<path d="M839.50 675.70L848.20 691.30L830.80 691.30Z" fill="#2f4f4f" fill-opacity="0.6"/>
<path d="M853.70 685.60L862.40 701.20L845.00 701.20Z" fill="#2f4f4f" fill-opacity="0.6"/>
<path d="M859.40 696.90L868.10 712.50L850.70 712.50Z" fill="#2f4f4f" fill-opacity="0.6"/>
<path d="M819.70 694.10L828.40 709.70L811.00 709.70Z" fill="#2f4f4f" fill-opacity="0.6"/>
<path d="M804.10 696.90L812.80 712.50L795.40 712.50Z" fill="#2f4f4f" fill-opacity="0.6"/>
<path d="M872.10 691.30L880.80 706.90L863.40 706.90Z" fill="#2f4f4f" fill-opacity="0.6"/>
<path d="M849.40 704.00L858.10 719.60L840.70 719.60Z" fill="#2f4f4f" fill-opacity="0.6"/>
<path d="M856.50 699.80L865.20 715.40L847.80 715.40Z" fill="#2f4f4f" fill-opacity="0.6"/>
<path d="M836.70 696.90L845.40 712.50L828.00 712.50Z" fill="#2f4f4f" fill-opacity="0.6"/>
<path d="M791.30 696.90L800.00 712.50L782.60 712.50Z" fill="#2f4f4f" fill-opacity="0.6"/>
<path d="M826.80 668.60L835.50 684.20L818.10 684.20Z" fill="#2f4f4f" fill-opacity="0.6"/>
<path d="M826.20 684.90L834.90 700.50L817.50 700.50Z" fill="#2f4f4f" fill-opacity="0.6"/>
<path d="M839.30 684.90L848.00 700.50L830.60 700.50Z" fill="#2f4f4f" fill-opacity="0.6"/>
<path d="M820.90 698.10L829.60 713.70L812.20 713.70Z" fill="#2f4f4f" fill-opacity="0.6"/>
<path d="M831.40 703.30L840.10 718.90L822.70 718.90Z" fill="#2f4f4f" fill-opacity="0.6"/>
<path d="M820.00 641.90L828.70 657.50L811.30 657.50Z" fill="#2f4f4f" fill-opacity="0.6"/>
<path d="M835.00 651.90L843.70 667.50L826.30 667.50Z" fill="#2f4f4f" fill-opacity="0.6"/>
<path d="M845.00 671.90L853.70 687.50L836.30 687.50Z" fill="#2f4f4f" fill-opacity="0.6"/>
<path d="M825.00 681.90L833.70 697.50L816.30 697.50Z" fill="#2f4f4f" fill-opacity="0.6"/>
<path d="M840.00 691.90L848.70 707.50L831.30 707.50Z" fill="#2f4f4f" fill-opacity="0.6"/>
<path d="M815.00 696.90L823.70 712.50L806.30 712.50Z" fill="#2f4f4f" fill-opacity="0.6"/>
<path d="M850.00 641.90L858.70 657.50L841.30 657.50Z" fill="#2f4f4f" fill-opacity="0.6"/>
<path d="M830.00 631.90L838.70 647.50L821.30 647.50Z" fill="#2f4f4f" fill-opacity="0.6"/>
<path d="M836.30 536.90L845.00 552.50L827.60 552.50Z" fill="#2f4f4f" fill-opacity="0.6"/>
<path d="M803.20 554.00L811.90 569.60L794.50 569.60Z" fill="#2f4f4f" fill-opacity="0.6"/>
<path d="M856.60 593.50L865.30 609.10L847.90 609.10Z" fill="#2f4f4f" fill-opacity="0.6"/>
<path d="M834.20 606.60L842.90 622.20L825.50 622.20Z" fill="#2f4f4f" fill-opacity="0.6"/>
<path d="M865.30 611.90L874.00 627.50L856.60 627.50Z" fill="#2f4f4f" fill-opacity="0.6"/>
<path d="M859.20 619.80L867.90 635.40L850.50 635.40Z" fill="#2f4f4f" fill-opacity="0.6"/>
<path d="M819.70 629.00L828.40 644.60L811.00 644.60Z" fill="#2f4f4f" fill-opacity="0.6"/>
<path d="M877.60 633.00L886.30 648.60L868.90 648.60Z" fill="#2f4f4f" fill-opacity="0.6"/>
<path d="M763.20 648.70L771.90 664.30L754.50 664.30Z" fill="#2f4f4f" fill-opacity="0.6"/>
<path d="M759.20 660.60L767.90 676.20L750.50 676.20Z" fill="#2f4f4f" fill-opacity="0.6"/>
<path d="M806.60 642.20L815.30 657.80L797.90 657.80Z" fill="#2f4f4f" fill-opacity="0.6"/>
<path d="M794.70 650.10L803.40 665.70L786.00 665.70Z" fill="#2f4f4f" fill-opacity="0.6"/>
<path d="M778.90 658.00L787.60 673.60L770.20 673.60Z" fill="#2f4f4f" fill-opacity="0.6"/>
<path d="M894.70 659.30L903.40 674.90L886.00 674.90Z" fill="#2f4f4f" fill-opacity="0.6"/>
<path d="M911.80 669.80L920.50 685.40L903.10 685.40Z" fill="#2f4f4f" fill-opacity="0.6"/>
<path d="M931.60 702.70L940.30 718.30L922.90 718.30Z" fill="#2f4f4f" fill-opacity="0.6"/>
<path d="M761.80 702.70L770.50 718.30L753.10 718.30Z" fill="#2f4f4f" fill-opacity="0.6"/>
<path d="M712.60 706.60L721.30 722.20L703.90 722.20Z" fill="#2f4f4f" fill-opacity="0.6"/>
<path d="M857.90 717.20L866.60 732.80L849.20 732.80Z" fill="#2f4f4f" fill-opacity="0.6"/>
<path d="M786.80 702.70L795.50 718.30L778.10 718.30Z" fill="#2f4f4f" fill-opacity="0.6"/>
<path d="M794.70 700.10L803.40 715.70L786.00 715.70Z" fill="#2f4f4f" fill-opacity="0.6"/>
<path d="M889.50 706.60L898.20 722.20L880.80 722.20Z" fill="#2f4f4f" fill-opacity="0.6"/>
<path d="M897.40 706.60L906.10 722.20L888.70 722.20Z" fill="#2f4f4f" fill-opacity="0.6"/>
<path d="M873.70 701.40L882.40 717.00L865.00 717.00Z" fill="#2f4f4f" fill-opacity="0.6"/>
<rect x="558.5" y="500.5" width="429.80" height="428.80" fill="none" stroke="#333" stroke-width="1.1"/>
</svg></body></html>
